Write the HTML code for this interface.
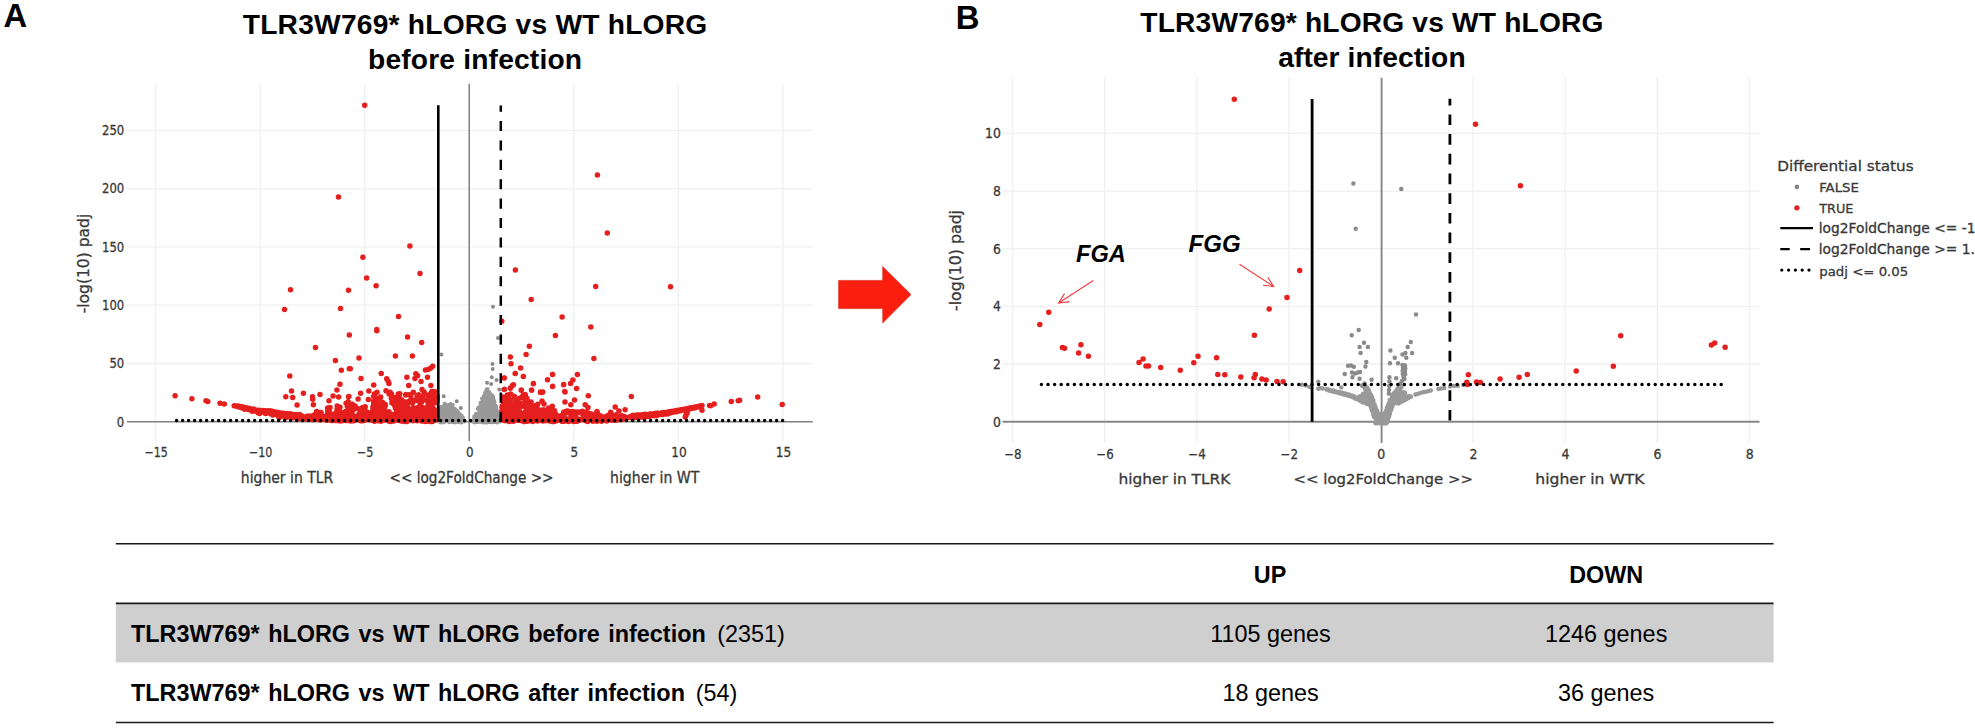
<!DOCTYPE html>
<html lang="en"><head><meta charset="utf-8"><title>TLR3W769* hLORG vs WT hLORG volcano plots</title>
<style>
html,body{margin:0;padding:0;background:#fff;}
body{width:1975px;height:728px;overflow:hidden;font-family:"Liberation Sans",Arial,sans-serif;}
svg{display:block;}
</style></head><body>
<svg width="1975" height="728" viewBox="0 0 1975 728">
<rect width="1975" height="728" fill="#fff"/>
<path d="M155.7 83.7V441.0M260.2 83.7V441.0M364.7 83.7V441.0M573.8 83.7V441.0M678.4 83.7V441.0M783.0 83.7V441.0M127.0 363.5H812.8M127.0 305.2H812.8M127.0 246.9H812.8M127.0 188.6H812.8M127.0 130.3H812.8" stroke="#f0f0f0" stroke-width="1.3" fill="none"/>
<path d="M469.2 83.7V441.0M127.0 421.8H812.8" stroke="#808080" stroke-width="1.5" fill="none"/>
<path d="M448.1 414.7h0M450.9 418.1h0M441.4 420.9h0M448.4 405.0h0M443.0 417.4h0M445.8 413.0h0M454.5 414.0h0M454.3 410.2h0M444.2 419.0h0M445.8 410.6h0M444.6 403.7h0M453.0 414.3h0M452.1 416.2h0M459.8 414.1h0M440.9 411.4h0M441.2 419.1h0M442.8 407.7h0M453.4 408.2h0M451.7 421.4h0M451.7 417.5h0M444.2 418.1h0M460.2 414.8h0M449.4 421.1h0M449.6 418.5h0M447.4 412.0h0M445.7 418.8h0M444.9 413.4h0M441.4 407.0h0M451.9 419.5h0M460.1 421.7h0M442.8 422.3h0M445.4 408.6h0M452.5 410.9h0M455.1 412.7h0M452.4 420.4h0M454.9 408.9h0M444.2 405.7h0M459.5 415.5h0M445.6 418.0h0M454.6 422.4h0M459.2 422.2h0M460.0 421.4h0M444.1 413.5h0M463.8 420.6h0M444.8 415.9h0M456.8 418.8h0M448.3 405.3h0M442.1 412.8h0M446.3 419.0h0M456.9 410.6h0M449.2 411.9h0M445.9 409.6h0M443.4 411.5h0M443.4 419.2h0M445.7 410.1h0M453.2 412.4h0M459.3 420.5h0M440.2 408.0h0M457.5 417.6h0M445.9 421.1h0M450.1 413.2h0M448.0 418.7h0M451.6 405.0h0M448.6 419.5h0M451.2 416.7h0M446.0 409.4h0M453.1 409.7h0M441.5 420.8h0M444.9 403.7h0M448.7 409.4h0M461.4 422.5h0M447.8 417.9h0M460.8 417.1h0M457.7 415.0h0M451.8 412.3h0M458.0 420.1h0M441.3 417.5h0M451.1 412.5h0M458.7 418.5h0M450.1 407.1h0M446.8 419.6h0M449.2 421.1h0M450.5 421.1h0M458.2 411.9h0M450.4 416.2h0M448.5 407.9h0M461.5 415.9h0M459.4 422.3h0M443.7 417.8h0M463.2 421.3h0M453.0 413.6h0M445.9 415.2h0M461.3 419.8h0M457.2 419.9h0M461.4 421.3h0M455.7 411.2h0M452.7 411.1h0M455.1 416.8h0M442.6 412.4h0M459.7 417.4h0M445.8 419.6h0M445.0 413.7h0M440.7 413.6h0M443.2 412.5h0M452.1 410.5h0M462.9 417.5h0M444.0 417.6h0M461.1 417.5h0M443.9 408.9h0M461.8 422.2h0M453.7 420.8h0M445.9 419.5h0M451.8 413.4h0M447.8 411.2h0M447.3 407.3h0M452.5 407.2h0M464.5 420.5h0M462.6 420.9h0M444.9 410.0h0M444.3 415.6h0M443.4 419.5h0M440.1 422.2h0M443.9 411.6h0M458.6 417.3h0M442.7 418.3h0M442.8 418.8h0M459.8 421.1h0M452.4 411.5h0M448.8 410.2h0M442.5 419.3h0M453.2 420.1h0M448.2 420.0h0M458.1 415.7h0M451.7 411.6h0M453.5 411.0h0M454.6 408.8h0M450.6 406.0h0M452.1 421.1h0M440.2 421.8h0M458.1 417.3h0M452.8 405.0h0M441.1 411.0h0M457.0 418.8h0M449.4 407.2h0M445.8 410.9h0M448.1 418.5h0M460.1 415.2h0M440.7 416.0h0M447.6 417.8h0M444.0 407.0h0M443.4 411.5h0M464.3 420.7h0M442.1 422.4h0M461.6 415.6h0M456.1 419.2h0M456.6 420.1h0M453.5 411.7h0M449.0 409.5h0M448.3 415.5h0M452.5 409.3h0M449.8 411.5h0M450.6 404.1h0M452.7 420.9h0M457.0 410.9h0M450.4 411.0h0M441.3 407.6h0M440.7 406.9h0M449.0 422.3h0M458.0 413.9h0M449.3 416.4h0M498.8 417.9h0M491.7 397.2h0M481.9 405.3h0M484.3 411.6h0M493.9 413.9h0M482.2 405.5h0M488.2 394.1h0M486.0 397.9h0M489.5 409.4h0M491.7 415.1h0M480.5 403.9h0M485.1 393.8h0M488.2 406.7h0M480.6 404.3h0M494.3 408.3h0M478.3 413.8h0M481.4 421.5h0M486.3 409.1h0M481.6 420.2h0M485.4 395.0h0M486.9 418.1h0M485.5 395.3h0M486.5 407.8h0M491.2 403.9h0M485.6 392.5h0M480.8 420.9h0M480.2 408.9h0M480.1 412.3h0M494.1 418.3h0M490.6 417.9h0M486.0 419.9h0M478.0 420.3h0M479.4 419.5h0M485.6 395.4h0M491.6 396.0h0M491.9 417.8h0M486.3 398.2h0M490.7 420.5h0M482.1 414.2h0M496.4 408.4h0M492.9 414.3h0M488.6 398.9h0M486.2 396.9h0M490.1 419.7h0M486.9 394.1h0M480.7 420.3h0M476.8 421.3h0M491.4 412.9h0M496.2 407.2h0M496.7 416.5h0M484.3 416.5h0M494.4 404.2h0M479.4 411.0h0M487.1 394.7h0M486.0 418.1h0M496.4 415.4h0M476.3 415.9h0M492.7 398.3h0M490.7 405.0h0M491.4 408.1h0M480.1 418.0h0M487.7 398.2h0M484.8 401.3h0M482.4 418.5h0M480.6 420.6h0M482.8 411.3h0M490.5 413.5h0M495.7 406.2h0M495.4 415.6h0M486.6 414.7h0M491.2 422.2h0M493.9 417.7h0M488.7 409.4h0M488.7 405.0h0M483.2 399.5h0M482.6 404.9h0M494.4 401.8h0M495.4 410.1h0M486.3 421.8h0M488.5 405.8h0M477.7 408.8h0M491.3 416.1h0M484.7 395.5h0M498.6 421.3h0M482.9 406.0h0M486.4 397.1h0M480.0 418.4h0M490.3 399.1h0M491.2 416.9h0M495.9 405.8h0M473.1 420.5h0M489.5 404.9h0M491.9 406.1h0M490.4 420.5h0M490.1 393.6h0M485.0 406.8h0M486.7 398.7h0M474.1 418.5h0M486.4 403.9h0M475.4 418.4h0M487.5 405.2h0M482.8 402.1h0M487.9 413.3h0M486.9 420.7h0M485.7 406.8h0M486.5 389.4h0M486.1 400.4h0M490.2 413.1h0M494.5 419.7h0M482.7 414.6h0M484.2 408.9h0M489.3 402.4h0M498.5 421.8h0M474.5 421.7h0M492.9 401.4h0M480.6 416.4h0M495.0 411.3h0M491.2 406.7h0M496.2 411.7h0M491.4 416.2h0M493.1 414.0h0M487.8 391.2h0M484.9 412.0h0M490.1 404.6h0M486.7 402.0h0M493.7 418.5h0M488.1 405.0h0M477.5 416.6h0M488.8 405.2h0M491.1 416.3h0M487.6 391.1h0M494.0 400.7h0M492.1 419.5h0M485.0 408.6h0M478.3 413.7h0M483.9 418.9h0M482.0 398.4h0M487.2 390.1h0M490.4 420.1h0M497.3 420.6h0M492.5 406.0h0M474.2 417.0h0M499.2 418.6h0M497.6 414.2h0M486.8 401.8h0M490.9 418.8h0M490.5 416.2h0M493.7 412.9h0M495.2 416.1h0M493.4 398.3h0M494.5 402.5h0M485.9 418.0h0M491.6 406.2h0M487.4 417.9h0M482.9 413.5h0M493.8 412.9h0M484.8 394.8h0M495.7 409.0h0M482.4 413.1h0M485.9 415.1h0M492.5 422.2h0M490.3 411.5h0M484.8 398.8h0M484.1 412.6h0M476.8 420.0h0M479.8 421.9h0M492.5 419.3h0M480.5 416.5h0M492.6 418.3h0M484.8 415.3h0M486.0 409.2h0M484.4 418.1h0M494.4 407.1h0M484.6 397.9h0M491.4 409.9h0M474.2 416.4h0M483.0 405.1h0M488.3 401.5h0M486.3 407.4h0M477.0 421.8h0M485.2 416.4h0M488.8 408.8h0M478.9 415.8h0M491.0 400.8h0M484.2 409.6h0M484.8 404.7h0M487.4 399.0h0M479.8 411.6h0M480.3 410.6h0M480.6 412.7h0M482.6 419.3h0M488.0 409.9h0M487.3 406.1h0M479.2 409.0h0M491.5 397.4h0M481.3 414.8h0M491.8 420.1h0M490.3 397.0h0M477.6 418.0h0M493.1 396.4h0M494.5 417.9h0M488.7 421.4h0M481.9 421.2h0M484.8 415.0h0M483.1 398.6h0M491.4 405.8h0M483.9 419.4h0M481.9 415.8h0M487.6 412.5h0M486.7 407.2h0M492.9 404.6h0M497.6 411.9h0M487.0 390.6h0M480.0 418.0h0M479.0 412.5h0M486.1 403.7h0M472.9 421.4h0M480.2 421.8h0M480.8 418.0h0M483.3 398.3h0M475.6 414.5h0M487.3 413.2h0M488.2 394.7h0M477.2 417.0h0M478.3 416.5h0M488.5 416.4h0M492.2 400.4h0M490.0 414.2h0M489.5 410.8h0M493.5 420.5h0M488.6 401.2h0M495.9 407.1h0M489.3 422.1h0M484.3 416.0h0M481.7 406.3h0M485.6 398.4h0M487.0 396.1h0M479.8 417.1h0M488.3 400.4h0M479.2 416.7h0M493.7 399.9h0M497.9 415.0h0M484.9 393.5h0M484.8 409.9h0M490.5 415.2h0M498.5 415.1h0M480.7 421.0h0M492.0 399.9h0M477.2 420.1h0M492.0 399.5h0M474.3 422.5h0M488.8 410.4h0M483.7 396.3h0M483.0 419.8h0M489.3 399.2h0M478.8 414.4h0M492.2 415.6h0M486.1 393.0h0M495.0 409.3h0M485.7 422.4h0M476.0 413.7h0M492.4 414.3h0M497.6 421.7h0M480.6 417.6h0M488.6 409.6h0M487.2 396.4h0M490.6 394.1h0M490.0 404.5h0M499.4 420.7h0M490.3 420.0h0M478.5 407.6h0M481.2 408.1h0M487.6 389.0h0M493.4 409.2h0M491.2 420.0h0M492.6 422.3h0M478.7 418.8h0M491.8 408.9h0M479.2 420.7h0M499.3 418.5h0M492.3 395.5h0M487.1 420.6h0M496.0 422.3h0M477.0 420.9h0M486.0 406.5h0M490.6 419.6h0M489.3 392.2h0M487.3 402.1h0M490.1 400.6h0M490.5 397.9h0M487.3 410.8h0M490.0 416.9h0M482.2 405.5h0M486.2 409.1h0M495.8 409.3h0M487.2 417.6h0M497.2 412.0h0M490.8 414.6h0M479.7 408.4h0M492.2 400.2h0M489.7 406.6h0M483.3 399.3h0M474.0 420.8h0M486.2 390.2h0M487.4 408.0h0M488.9 398.5h0M482.4 400.4h0M481.5 417.3h0M482.8 411.2h0M486.5 398.9h0M492.7 405.3h0M496.2 408.3h0M484.4 405.2h0M477.1 414.4h0M494.2 407.3h0M487.0 401.4h0M484.0 408.3h0M494.8 412.2h0M484.6 418.4h0M494.4 406.5h0M480.6 402.7h0M479.7 418.8h0M496.4 412.7h0M493.8 407.7h0M480.1 416.1h0M480.7 407.4h0M497.4 411.2h0M487.4 399.2h0M484.9 393.1h0M494.8 407.7h0M471.8 421.2h0M487.3 422.6h0M445.3 421.1h0M486.4 421.9h0M486.9 420.8h0M464.5 421.5h0M441.4 421.7h0M449.9 421.5h0M486.0 420.7h0M496.2 422.1h0M461.8 420.7h0M481.2 421.4h0M499.8 421.5h0M476.8 421.2h0M448.9 421.4h0M453.2 421.6h0M455.0 422.0h0M491.4 421.9h0M457.1 420.6h0M485.1 421.3h0M498.6 420.8h0M476.9 422.3h0M458.6 421.3h0M455.6 420.5h0M497.7 421.3h0M489.6 420.5h0M494.1 421.5h0M489.9 421.1h0M454.0 421.5h0M464.6 421.2h0M450.6 420.6h0M441.2 420.8h0M452.3 422.3h0M479.9 421.7h0M444.4 421.2h0M497.1 422.4h0M493.9 421.3h0M479.0 421.0h0M478.5 421.6h0M475.2 420.6h0M453.9 421.1h0M471.1 421.2h0M462.5 421.5h0M473.8 421.3h0M460.8 421.7h0M477.5 422.1h0M477.8 420.8h0M461.3 421.8h0M482.8 422.4h0M483.9 421.8h0M476.6 421.1h0M474.5 421.3h0M460.0 421.0h0M497.4 422.5h0M458.4 421.6h0M444.1 422.2h0M456.1 422.3h0M454.0 421.6h0M481.4 421.8h0M494.4 422.0h0" fill="none" stroke="#999999" stroke-width="4.00" stroke-linecap="round"/>
<path d="M441.4 354.5h0M443.7 396.2h0M456.8 401.2h0M460.9 408.1h0M492.5 364.1h0M492.7 369.0h0M491.8 377.2h0M487.0 382.7h0M491.1 384.1h0M496.6 380.0h0M498.0 338.0h0M499.3 389.6h0M493.0 306.8h0" fill="none" stroke="#8a8a8a" stroke-width="4.00" stroke-linecap="round"/>
<path d="M258.1 411.7h0M278.4 415.2h0M271.2 412.4h0M241.6 407.2h0M240.3 407.0h0M242.3 407.9h0M264.3 410.9h0M245.7 408.6h0M276.9 412.4h0M273.8 413.1h0M298.5 418.4h0M291.2 416.5h0M246.9 409.0h0M257.1 410.2h0M249.2 408.9h0M277.6 414.2h0M272.0 413.4h0M241.7 407.6h0M280.2 414.4h0M257.5 410.7h0M266.1 412.2h0M287.3 414.6h0M253.1 409.8h0M270.6 411.1h0M283.2 415.3h0M298.8 418.1h0M263.9 411.0h0M247.4 408.6h0M240.4 406.8h0M285.4 414.8h0M292.3 416.6h0M281.1 414.1h0M274.0 412.9h0M290.1 414.1h0M267.4 411.4h0M241.8 407.1h0M278.1 412.5h0M289.0 416.2h0M261.9 411.1h0M239.4 406.8h0M248.4 409.4h0M241.7 407.0h0M246.0 408.6h0M262.2 410.7h0M243.0 407.6h0M272.1 411.4h0M288.8 414.3h0M255.3 410.5h0M260.2 410.6h0M297.4 417.9h0M248.9 409.4h0M252.5 409.8h0M274.5 413.6h0M238.3 406.5h0M260.9 411.3h0M297.1 415.8h0M270.0 411.7h0M279.9 415.5h0M293.8 415.1h0M292.2 414.9h0M262.3 411.7h0M244.4 407.7h0M241.9 407.8h0M250.9 410.0h0M259.1 412.1h0M238.0 406.7h0M244.3 408.1h0M239.6 406.4h0M276.1 414.3h0M253.6 410.3h0M260.6 412.1h0M290.6 414.0h0M266.9 411.8h0M243.3 408.2h0M259.2 411.7h0M289.4 416.7h0M239.4 406.2h0M270.8 412.9h0M271.7 413.4h0M270.7 410.9h0M291.5 415.1h0M254.2 410.4h0M248.4 408.4h0M271.0 411.4h0M258.4 411.6h0M288.3 413.8h0M290.9 414.7h0M288.7 414.7h0M252.1 409.7h0M260.0 412.3h0M239.7 407.0h0M254.1 409.8h0M297.3 416.8h0M296.1 414.6h0M297.2 417.0h0M251.7 410.0h0M250.2 409.7h0M276.7 412.5h0M290.1 415.7h0M278.5 413.1h0M243.3 407.4h0M294.4 415.2h0M284.5 414.9h0M249.1 408.6h0M258.6 410.5h0M298.2 417.0h0M262.9 410.6h0M282.9 415.6h0M245.9 408.7h0M294.1 415.1h0M247.1 408.1h0M298.8 416.1h0M259.7 411.2h0M246.1 409.0h0M298.2 416.1h0M270.6 411.0h0M264.9 410.8h0M289.2 416.5h0M253.6 410.4h0M252.9 409.7h0M254.1 410.3h0M246.1 407.8h0M259.9 411.4h0M274.2 411.8h0M264.1 410.7h0M269.1 411.9h0M270.5 413.2h0M265.3 412.4h0M238.2 406.1h0M248.7 409.0h0M283.0 414.5h0M258.2 411.0h0M272.4 411.7h0M244.6 407.9h0M253.4 410.4h0M285.9 415.0h0M272.8 411.9h0M294.6 416.4h0M276.0 413.3h0M269.8 411.5h0M266.0 411.7h0M267.6 410.8h0M281.4 413.3h0M296.4 417.3h0M272.7 411.4h0M290.1 416.9h0M245.5 408.3h0M242.5 407.8h0M242.5 407.3h0M286.6 413.9h0M247.6 408.3h0M278.9 415.1h0M292.7 414.4h0M251.6 408.9h0M262.7 411.5h0M299.4 415.5h0M248.0 408.9h0M270.0 412.4h0M250.1 409.5h0M282.8 416.1h0M272.4 412.6h0M239.1 406.8h0M276.7 413.5h0M242.0 406.8h0M286.9 413.7h0M244.5 408.2h0M240.5 406.7h0M254.8 410.9h0M264.2 410.7h0M288.8 416.3h0M247.3 408.0h0M273.4 412.2h0M243.5 408.3h0M280.7 414.5h0M242.5 406.9h0M277.3 412.9h0M243.2 407.2h0M242.1 406.9h0M266.1 412.1h0M272.3 411.3h0M254.6 410.9h0M270.7 412.7h0M244.8 408.4h0M241.1 407.5h0M257.3 411.2h0M285.1 415.6h0M269.0 412.7h0M259.5 412.3h0M253.5 410.8h0M283.5 414.5h0M249.7 409.2h0M295.9 417.8h0M288.8 415.7h0M268.7 411.1h0M262.4 411.5h0M280.6 412.9h0M259.2 410.6h0M281.8 414.1h0M263.1 411.9h0M241.4 407.6h0M242.4 407.1h0M253.8 410.7h0M243.2 407.2h0M292.0 415.3h0M255.5 410.9h0M256.2 410.7h0M247.8 408.8h0M254.3 409.4h0M298.3 416.5h0M253.2 409.1h0M257.2 411.1h0M238.1 406.5h0M267.4 411.8h0M250.5 409.3h0M238.3 406.7h0M243.6 407.8h0M240.6 407.5h0M256.9 411.2h0M274.3 412.8h0M284.5 414.4h0M282.4 413.4h0M262.2 411.8h0M299.1 418.0h0M282.9 414.2h0M240.7 406.7h0M293.3 415.6h0M283.5 413.8h0M246.6 408.4h0M269.3 411.1h0M287.9 414.3h0M274.2 411.9h0M280.3 413.7h0M252.3 410.5h0M246.3 408.5h0M244.5 407.5h0M272.6 412.2h0M276.8 413.1h0M268.3 413.1h0M287.5 414.5h0M269.2 411.9h0M278.9 415.3h0M283.7 415.5h0M242.6 407.8h0M283.2 415.6h0M283.9 413.3h0M268.6 412.2h0M267.7 411.4h0M285.6 414.6h0M277.9 415.0h0M247.1 408.9h0M284.1 415.4h0M273.2 413.9h0M241.8 407.6h0M279.7 413.6h0M279.9 414.8h0M270.0 412.1h0M266.9 412.7h0M293.4 417.1h0M298.6 415.1h0M239.1 406.7h0M326.8 420.2h0M410.4 418.7h0M392.7 419.0h0M413.5 415.2h0M413.3 419.7h0M394.2 403.4h0M375.4 407.0h0M412.6 420.0h0M420.1 412.2h0M424.6 410.1h0M395.2 414.7h0M329.4 419.7h0M310.5 419.2h0M361.4 419.2h0M437.2 399.6h0M372.4 415.2h0M348.6 409.4h0M362.4 418.1h0M346.6 420.4h0M345.4 417.1h0M389.5 414.5h0M384.2 407.7h0M369.7 416.0h0M431.5 418.6h0M431.7 403.9h0M349.7 413.1h0M337.3 413.5h0M316.0 414.9h0M362.6 420.8h0M430.4 400.8h0M319.9 413.0h0M429.9 406.1h0M422.3 414.8h0M314.1 415.1h0M431.0 420.7h0M317.5 417.0h0M357.8 419.5h0M315.3 419.0h0M290.6 416.8h0M399.4 404.7h0M327.8 415.3h0M425.0 420.1h0M431.1 405.9h0M426.8 416.5h0M398.0 415.8h0M378.1 404.2h0M335.4 418.6h0M380.1 415.1h0M413.6 410.5h0M420.1 404.4h0M321.1 412.7h0M410.3 419.4h0M427.1 418.2h0M354.1 415.9h0M429.5 411.3h0M380.0 405.4h0M410.4 418.6h0M369.7 419.3h0M360.4 420.8h0M426.5 419.1h0M405.2 406.4h0M414.4 400.7h0M413.2 411.3h0M349.7 406.9h0M321.7 416.0h0M355.5 408.1h0M397.3 409.1h0M430.2 417.9h0M437.1 416.9h0M422.0 416.9h0M421.8 416.1h0M407.0 421.4h0M373.6 415.6h0M383.0 411.0h0M351.6 418.9h0M428.1 399.8h0M300.5 418.3h0M404.7 402.8h0M339.1 407.4h0M428.2 402.4h0M423.1 409.6h0M404.2 410.1h0M428.7 401.1h0M378.2 412.4h0M331.6 418.8h0M414.1 407.9h0M398.5 401.8h0M336.9 413.8h0M370.0 416.2h0M365.4 412.4h0M432.4 418.5h0M398.8 415.1h0M391.1 421.1h0M416.1 414.6h0M380.5 419.3h0M290.4 413.7h0M382.2 414.9h0M410.0 418.8h0M429.3 401.3h0M303.0 417.7h0M409.2 417.1h0M341.8 420.7h0M362.4 411.8h0M403.3 414.0h0M367.6 418.1h0M286.2 415.5h0M361.0 417.3h0M405.5 416.1h0M381.3 406.3h0M420.8 401.3h0M400.2 404.9h0M335.6 417.6h0M352.6 410.8h0M305.1 418.7h0M314.7 414.7h0M344.3 416.3h0M397.2 401.0h0M406.0 408.8h0M377.6 415.0h0M423.7 410.7h0M399.6 401.9h0M395.6 415.8h0M383.3 404.0h0M381.3 406.7h0M404.7 412.1h0M380.3 413.3h0M427.1 412.8h0M404.0 408.5h0M433.8 409.9h0M364.8 410.7h0M383.0 409.4h0M389.8 415.5h0M391.9 402.8h0M320.0 420.1h0M366.0 416.5h0M403.8 412.2h0M432.2 412.4h0M412.5 417.8h0M395.5 402.3h0M382.7 405.3h0M411.6 416.1h0M307.7 415.9h0M338.6 419.1h0M406.1 418.8h0M378.3 413.1h0M421.6 417.5h0M398.5 418.6h0M356.9 408.6h0M361.6 418.1h0M371.3 417.5h0M342.9 420.6h0M427.3 421.1h0M363.5 419.0h0M358.0 415.7h0M411.6 408.9h0M385.3 404.5h0M385.8 419.3h0M378.8 412.0h0M401.7 400.6h0M385.5 417.1h0M405.3 402.6h0M351.3 419.9h0M344.7 420.0h0M389.7 420.7h0M403.4 417.9h0M396.7 412.1h0M393.6 419.9h0M396.7 418.0h0M373.2 413.3h0M383.8 406.7h0M344.5 420.2h0M405.0 403.5h0M411.5 411.5h0M434.3 411.4h0M332.8 418.7h0M375.0 418.7h0M292.4 416.8h0M415.1 413.5h0M399.8 402.0h0M378.1 407.9h0M317.3 415.2h0M408.4 402.0h0M373.9 418.7h0M365.2 411.1h0M302.1 416.2h0M372.0 415.9h0M350.6 415.6h0M418.1 420.2h0M424.0 411.3h0M346.3 420.6h0M431.1 406.1h0M354.0 420.7h0M324.8 419.1h0M405.3 412.6h0M435.5 399.7h0M400.5 413.3h0M331.3 415.4h0M427.7 418.8h0M426.9 412.1h0M354.6 417.1h0M319.6 414.3h0M369.9 418.3h0M423.0 421.1h0M436.3 419.7h0M434.5 416.7h0M412.3 400.8h0M378.9 416.8h0M397.2 414.5h0M413.7 408.6h0M418.3 400.8h0M412.2 400.2h0M364.9 409.2h0M304.3 416.9h0M417.3 414.2h0M418.4 408.7h0M363.9 409.8h0M376.9 409.4h0M392.6 418.3h0M349.8 409.5h0M346.0 415.9h0M352.1 416.6h0M424.5 417.7h0M427.7 406.8h0M382.0 409.6h0M403.8 412.2h0M408.8 418.6h0M364.9 420.3h0M329.6 412.6h0M363.9 407.9h0M379.0 403.9h0M435.8 415.8h0M310.1 418.3h0M320.2 414.9h0M388.4 417.8h0M410.6 414.9h0M398.8 408.2h0M405.1 419.4h0M402.2 408.7h0M432.0 406.7h0M404.9 411.5h0M395.7 406.0h0M405.4 408.8h0M413.9 420.5h0M317.0 419.3h0M361.4 415.8h0M429.8 409.4h0M371.2 418.5h0M432.3 407.3h0M380.8 404.8h0M334.3 417.1h0M363.8 418.9h0M390.7 421.4h0M420.7 400.0h0M382.6 406.5h0M405.5 413.7h0M410.9 416.6h0M295.4 415.7h0M421.1 420.6h0M333.8 416.9h0M332.1 420.6h0M340.4 420.9h0M295.9 417.1h0M393.1 402.9h0M431.4 420.3h0M362.6 407.6h0M418.3 409.1h0M368.3 415.8h0M347.2 415.8h0M327.9 413.4h0M414.4 412.1h0M313.6 419.4h0M413.3 414.3h0M338.9 417.4h0M323.1 416.3h0M317.9 415.2h0M399.4 403.2h0M427.1 414.9h0M401.6 414.0h0M408.2 410.0h0M433.1 409.9h0M371.4 416.9h0M425.5 412.1h0M427.9 402.4h0M403.5 403.6h0M314.2 417.7h0M426.6 416.1h0M372.0 417.0h0M393.0 420.2h0M405.4 403.3h0M337.4 413.1h0M423.9 420.9h0M431.9 416.8h0M331.1 420.4h0M374.1 409.6h0M372.9 409.1h0M375.3 406.4h0M297.1 418.1h0M369.5 415.4h0M403.6 415.9h0M420.8 418.3h0M371.4 418.3h0M401.8 417.1h0M377.6 410.1h0M407.8 419.7h0M407.5 410.2h0M390.6 420.3h0M362.1 416.5h0M291.4 416.9h0M336.0 418.9h0M372.3 420.5h0M436.5 410.4h0M402.9 415.8h0M382.0 405.3h0M328.7 418.3h0M428.4 403.8h0M401.8 409.0h0M382.4 410.1h0M347.6 404.6h0M418.1 407.4h0M396.2 420.0h0M337.6 410.9h0M435.8 415.8h0M346.6 411.4h0M397.3 411.4h0M298.0 418.4h0M367.5 412.4h0M399.7 406.4h0M348.8 412.0h0M426.4 421.3h0M409.5 409.8h0M375.3 412.8h0M377.3 415.0h0M403.7 415.8h0M403.4 421.3h0M312.9 419.6h0M310.6 415.9h0M382.5 416.5h0M355.8 419.1h0M383.9 418.1h0M425.4 412.1h0M401.2 403.6h0M436.8 410.6h0M309.8 418.3h0M326.5 417.1h0M421.2 413.5h0M376.7 410.8h0M419.9 418.6h0M340.7 418.1h0M433.8 419.3h0M337.5 414.3h0M436.3 418.5h0M351.0 413.5h0M432.8 414.7h0M368.5 413.7h0M435.0 414.4h0M413.9 419.3h0M384.0 404.1h0M433.4 415.1h0M415.5 411.2h0M436.9 412.1h0M398.8 414.2h0M345.7 411.7h0M388.7 412.1h0M395.5 408.2h0M319.6 419.7h0M410.7 412.4h0M411.5 418.2h0M292.6 417.3h0M407.8 407.6h0M394.9 404.3h0M350.2 411.8h0M347.9 416.8h0M339.5 410.8h0M426.3 420.9h0M336.0 415.4h0M375.9 407.8h0M413.4 408.1h0M421.1 408.6h0M363.6 413.2h0M389.1 415.7h0M402.8 401.7h0M359.2 413.7h0M436.0 402.7h0M333.5 418.0h0M407.7 402.6h0M374.6 416.5h0M419.2 407.1h0M383.0 418.1h0M425.9 416.5h0M361.6 413.3h0M330.7 417.5h0M301.3 416.1h0M430.2 412.9h0M371.0 419.3h0M389.0 417.2h0M428.5 403.4h0M338.8 408.7h0M427.1 408.4h0M417.1 409.8h0M421.5 401.8h0M426.3 411.3h0M432.7 420.2h0M373.7 405.6h0M428.8 417.6h0M418.5 399.8h0M421.1 420.1h0M360.1 410.6h0M390.5 415.2h0M421.1 410.8h0M321.5 416.1h0M393.8 402.3h0M379.8 416.9h0M337.9 407.8h0M425.7 420.1h0M434.1 416.3h0M358.8 415.9h0M423.8 412.3h0M316.2 417.7h0M405.3 414.4h0M339.0 420.7h0M411.7 419.2h0M399.0 416.5h0M375.6 417.1h0M405.0 403.7h0M431.8 420.2h0M360.7 413.5h0M393.8 416.1h0M406.4 420.1h0M385.0 404.7h0M376.2 416.3h0M377.7 404.6h0M318.4 417.6h0M389.6 417.1h0M341.0 418.8h0M378.6 406.1h0M436.0 417.3h0M301.3 418.1h0M364.0 419.8h0M380.7 420.5h0M340.9 412.2h0M343.0 413.3h0M434.1 417.4h0M399.9 414.7h0M399.7 404.3h0M306.8 418.8h0M293.1 415.1h0M383.3 415.5h0M434.4 416.6h0M388.6 420.7h0M393.7 403.1h0M310.6 417.1h0M398.0 404.0h0M432.2 401.2h0M423.9 417.4h0M382.6 404.1h0M370.8 415.3h0M327.8 419.5h0M366.3 412.1h0M428.6 402.2h0M296.6 415.3h0M388.9 416.7h0M432.7 413.7h0M403.5 420.1h0M398.6 406.0h0M418.2 409.3h0M337.4 406.6h0M362.2 413.1h0M373.7 410.7h0M327.5 416.2h0M413.2 413.2h0M400.4 419.0h0M422.4 417.0h0M327.7 411.4h0M411.0 401.5h0M320.0 413.3h0M392.1 417.5h0M353.6 416.7h0M406.4 417.5h0M404.0 408.9h0M350.3 412.1h0M395.9 406.2h0M417.6 416.6h0M431.8 421.2h0M397.7 407.2h0M433.6 420.3h0M425.6 414.4h0M417.0 412.1h0M381.9 403.8h0M422.4 407.6h0M403.9 421.4h0M424.3 408.2h0M324.2 419.3h0M393.7 421.1h0M343.5 417.3h0M335.1 418.7h0M382.5 407.3h0M345.5 417.1h0M300.2 416.5h0M427.2 413.2h0M427.1 419.5h0M400.9 420.9h0M393.7 416.7h0M405.4 419.5h0M410.6 411.9h0M346.2 415.1h0M289.7 416.8h0M300.3 417.8h0M378.0 415.7h0M384.4 414.8h0M406.8 417.4h0M414.9 418.5h0M393.2 403.7h0M427.4 417.4h0M321.0 419.6h0M335.9 415.8h0M421.0 409.6h0M381.1 409.8h0M432.5 409.6h0M384.6 420.0h0M347.8 413.7h0M432.8 401.4h0M390.8 415.3h0M432.3 411.1h0M385.5 413.8h0M390.3 415.7h0M348.0 407.4h0M396.5 419.9h0M411.7 417.9h0M407.8 403.1h0M295.8 417.8h0M395.6 416.2h0M302.9 416.4h0M329.3 415.6h0M344.3 412.4h0M418.0 418.0h0M322.4 418.1h0M426.2 414.7h0M364.1 408.0h0M398.3 402.0h0M361.7 412.7h0M398.3 405.4h0M374.5 406.3h0M389.0 420.3h0M429.9 421.4h0M380.2 417.3h0M347.7 413.1h0M411.6 411.6h0M394.0 402.2h0M420.5 402.0h0M348.0 412.9h0M418.0 409.6h0M414.8 412.7h0M385.8 416.5h0M422.3 400.9h0M388.8 415.0h0M380.7 413.2h0M407.3 408.2h0M388.8 412.6h0M313.3 416.1h0M422.5 414.8h0M340.6 415.6h0M374.3 410.8h0M340.0 407.2h0M432.0 417.4h0M383.4 414.0h0M432.6 415.6h0M331.6 417.0h0M377.2 418.4h0M365.2 406.7h0M406.1 404.7h0M360.6 419.8h0M391.1 414.4h0M320.8 416.5h0M393.4 416.3h0M321.1 413.0h0M374.4 412.2h0M395.9 403.4h0M383.1 411.7h0M320.3 417.2h0M394.7 416.3h0M333.0 414.5h0M427.3 407.8h0M365.1 414.3h0M334.3 414.2h0M402.9 407.4h0M426.7 411.8h0M424.0 407.9h0M399.9 407.2h0M432.2 403.4h0M412.4 400.4h0M402.0 404.7h0M421.3 408.1h0M431.1 403.4h0M436.3 417.9h0M334.7 415.1h0M337.8 406.7h0M410.6 410.7h0M424.0 412.3h0M420.6 402.3h0M425.5 421.4h0M396.4 416.8h0M413.4 409.8h0M414.0 418.5h0M418.0 407.7h0M337.5 416.0h0M296.7 415.0h0M381.9 408.0h0M375.1 409.3h0M359.4 418.5h0M341.1 413.8h0M375.6 414.4h0M351.1 409.4h0M319.7 416.5h0M351.8 414.2h0M369.0 413.1h0M424.1 415.4h0M417.7 419.7h0M422.3 420.4h0M363.5 410.3h0M307.8 416.6h0M337.6 415.2h0M312.6 419.1h0M316.6 414.5h0M399.7 414.2h0M327.3 419.7h0M299.1 416.4h0M382.9 404.6h0M402.3 401.1h0M362.5 408.3h0M429.3 401.1h0M339.8 419.6h0M370.1 414.8h0M430.0 405.4h0M415.2 411.1h0M388.7 420.2h0M361.2 418.9h0M339.1 419.8h0M383.0 404.5h0M344.7 416.1h0M327.8 417.0h0M315.3 416.6h0M424.1 410.1h0M425.9 419.7h0M351.8 415.2h0M418.4 411.3h0M433.1 421.1h0M393.1 400.6h0M291.1 416.2h0M373.3 418.6h0M377.2 406.1h0M429.1 419.4h0M407.7 409.2h0M387.5 414.6h0M348.0 420.5h0M343.1 419.1h0M406.2 417.0h0M400.9 411.6h0M401.5 419.2h0M375.0 419.9h0M328.0 418.3h0M385.3 405.5h0M350.7 416.7h0M401.1 418.1h0M389.1 421.3h0M382.6 402.4h0M395.0 404.8h0M427.5 399.5h0M409.6 400.8h0M427.1 416.1h0M423.5 420.9h0M403.0 409.6h0M424.6 413.5h0M399.0 407.9h0M410.8 419.6h0M341.8 415.5h0M375.4 418.7h0M329.1 410.4h0M429.8 405.3h0M430.0 409.9h0M377.8 420.8h0M363.0 417.4h0M387.5 419.7h0M436.5 414.3h0M433.0 410.6h0M316.8 417.3h0M432.6 413.9h0M430.7 421.4h0M396.1 405.2h0M422.5 399.6h0M407.5 408.9h0M373.1 406.6h0M350.1 415.4h0M362.3 411.5h0M336.3 412.6h0M350.3 409.1h0M428.1 400.0h0M332.3 419.3h0M292.9 417.7h0M384.3 412.0h0M363.5 413.1h0M387.6 416.7h0M330.3 416.9h0M357.8 408.4h0M395.7 413.8h0M299.9 418.1h0M382.6 418.3h0M394.7 405.7h0M334.3 416.1h0M417.2 420.8h0M383.7 410.5h0M337.2 409.1h0M375.2 403.1h0M327.8 414.0h0M404.5 402.4h0M330.1 414.1h0M410.2 414.7h0M332.5 415.3h0M397.3 402.0h0M405.0 413.3h0M431.9 413.2h0M432.6 401.9h0M337.1 416.4h0M397.8 405.5h0M421.8 418.2h0M433.8 400.0h0M328.6 417.8h0M336.3 418.8h0M350.8 415.8h0M342.8 419.1h0M401.5 413.4h0M316.4 419.3h0M383.8 409.1h0M349.2 419.1h0M415.9 411.0h0M343.2 416.4h0M408.9 415.9h0M404.0 410.0h0M363.0 414.0h0M416.6 418.5h0M340.3 411.7h0M347.0 413.0h0M412.2 414.8h0M383.8 411.7h0M379.5 403.9h0M388.9 411.8h0M404.3 401.7h0M400.2 407.5h0M433.1 412.7h0M427.7 414.6h0M421.1 417.3h0M390.4 418.1h0M425.6 418.3h0M436.2 416.4h0M328.6 416.8h0M426.3 411.7h0M416.8 413.9h0M399.0 402.3h0M400.3 418.4h0M397.1 406.4h0M365.6 419.5h0M357.6 416.1h0M382.4 405.6h0M373.8 407.2h0M412.0 411.4h0M381.0 415.9h0M330.3 416.1h0M308.6 418.2h0M373.6 408.2h0M412.9 419.8h0M316.2 415.6h0M404.5 414.6h0M320.6 412.6h0M400.8 419.8h0M429.8 407.3h0M352.3 417.3h0M421.2 412.9h0M323.2 418.1h0M434.4 412.1h0M381.9 408.0h0M396.5 412.5h0M337.1 413.2h0M396.9 420.0h0M348.9 409.4h0M352.0 420.8h0M334.8 417.3h0M418.6 407.3h0M401.7 399.9h0M364.8 420.0h0M422.1 410.4h0M349.1 407.4h0M424.9 411.0h0M393.8 419.7h0M398.6 420.2h0M347.9 418.1h0M375.1 403.1h0M407.5 401.9h0M395.1 406.6h0M421.4 421.1h0M421.4 420.1h0M379.5 407.8h0M431.7 406.9h0M342.8 415.0h0M384.6 410.6h0M364.2 420.3h0M432.4 421.4h0M398.7 420.0h0M412.4 402.9h0M405.5 404.0h0M341.9 417.6h0M414.1 400.4h0M394.8 417.7h0M431.7 402.5h0M289.7 414.2h0M414.7 414.2h0M408.8 410.1h0M409.3 409.8h0M393.4 415.9h0M381.3 419.6h0M336.6 419.8h0M384.0 420.0h0M404.0 407.8h0M430.0 407.4h0M354.7 408.3h0M414.9 411.0h0M412.9 420.7h0M413.0 410.9h0M380.2 409.9h0M301.5 416.5h0M376.7 411.3h0M418.1 415.4h0M328.0 417.1h0M421.8 410.8h0M343.5 415.5h0M379.5 409.9h0M426.8 419.4h0M433.0 408.2h0M382.2 414.0h0M429.7 404.2h0M418.9 416.2h0M290.7 416.5h0M335.4 420.4h0M404.2 402.3h0M407.9 410.3h0M327.1 420.0h0M307.7 417.0h0M318.9 416.7h0M320.8 418.2h0M411.3 415.6h0M403.3 417.3h0M435.4 417.3h0M425.7 413.5h0M306.5 418.8h0M403.1 416.9h0M400.2 413.1h0M418.5 407.5h0M405.6 416.1h0M398.1 404.3h0M328.8 412.3h0M358.9 419.6h0M428.5 410.5h0M301.6 415.7h0M359.0 417.5h0M382.6 419.6h0M424.4 419.7h0M425.7 418.3h0M411.7 415.3h0M348.9 418.8h0M429.4 405.4h0M374.5 421.2h0M348.7 406.7h0M434.6 401.3h0M404.7 402.1h0M404.4 409.8h0M314.2 416.9h0M408.4 412.7h0M433.7 409.6h0M382.9 404.6h0M353.5 416.0h0M395.0 401.9h0M392.8 414.5h0M339.1 410.7h0M435.7 418.5h0M402.8 401.3h0M404.9 415.3h0M360.2 415.7h0M382.5 414.8h0M338.9 410.8h0M400.0 398.5h0M420.1 403.3h0M399.8 410.4h0M316.1 419.0h0M373.7 403.8h0M365.8 414.5h0M338.1 416.3h0M301.0 418.7h0M381.0 421.2h0M366.1 416.3h0M300.6 418.0h0M432.6 401.1h0M414.8 415.2h0M377.1 420.5h0M399.9 419.9h0M409.2 410.0h0M433.8 420.5h0M377.9 419.7h0M352.5 416.9h0M327.7 419.6h0M436.9 401.4h0M374.4 406.6h0M429.6 406.7h0M430.7 414.7h0M360.5 409.1h0M407.7 418.4h0M421.0 409.1h0M349.4 419.6h0M359.5 413.9h0M396.7 403.7h0M396.6 410.2h0M338.2 416.6h0M434.4 401.4h0M384.3 409.2h0M371.3 412.6h0M350.6 407.1h0M350.8 420.9h0M299.7 414.5h0M346.0 411.2h0M421.4 402.2h0M324.7 416.4h0M407.1 418.0h0M421.3 411.8h0M372.9 407.3h0M409.4 414.4h0M336.2 420.4h0M348.3 412.3h0M379.8 409.2h0M404.7 402.7h0M336.4 415.4h0M347.3 406.1h0M403.4 406.9h0M425.8 421.0h0M327.2 418.7h0M337.0 409.9h0M338.5 416.2h0M325.2 417.0h0M414.6 412.7h0M301.3 416.6h0M434.5 413.5h0M435.4 411.7h0M339.1 407.2h0M427.2 400.2h0M398.3 393.9h0M355.1 406.1h0M430.3 397.2h0M405.7 395.0h0M348.2 401.8h0M436.3 392.2h0M437.3 396.3h0M431.8 395.1h0M377.1 400.1h0M424.1 392.0h0M391.3 398.6h0M391.6 394.2h0M417.0 396.6h0M395.0 397.7h0M432.3 397.3h0M417.4 396.7h0M418.5 394.8h0M373.6 401.2h0M422.0 389.4h0M358.1 398.9h0M380.0 398.2h0M376.0 398.0h0M433.0 396.9h0M433.9 391.5h0M422.5 396.0h0M389.1 394.1h0M374.4 394.1h0M422.7 397.1h0M380.7 397.0h0M419.4 396.0h0M431.3 392.6h0M413.3 392.3h0M421.4 396.3h0M409.2 394.8h0M352.3 404.3h0M679.2 410.7h0M690.6 408.2h0M669.8 412.8h0M650.6 414.1h0M686.5 409.4h0M637.8 417.0h0M697.6 407.1h0M687.1 409.0h0M669.7 412.5h0M659.9 413.9h0M638.1 415.0h0M639.0 417.0h0M677.7 410.6h0M686.9 408.9h0M695.3 407.7h0M632.7 417.4h0M685.0 409.8h0M668.1 412.4h0M642.6 415.6h0M693.3 407.6h0M659.1 414.1h0M650.9 413.9h0M685.2 409.2h0M652.7 414.3h0M665.1 412.8h0M656.7 413.5h0M678.6 410.7h0M670.3 411.9h0M668.0 412.1h0M632.5 415.5h0M680.6 410.3h0M689.8 408.9h0M655.0 414.1h0M688.0 409.0h0M699.6 406.2h0M635.1 417.5h0M637.2 416.0h0M653.9 415.2h0M662.4 414.5h0M693.8 407.4h0M670.0 412.6h0M653.0 414.5h0M655.6 413.4h0M697.0 406.8h0M688.2 409.3h0M640.4 416.3h0M640.6 416.1h0M699.1 406.2h0M697.2 407.1h0M647.1 416.5h0M650.6 416.0h0M667.9 413.3h0M677.8 410.7h0M672.6 412.2h0M682.0 409.8h0M680.6 410.3h0M663.5 413.9h0M634.7 416.6h0M673.9 412.1h0M690.5 408.1h0M690.0 408.2h0M665.2 413.9h0M650.4 414.4h0M699.0 406.7h0M632.4 417.1h0M655.7 414.2h0M639.6 415.0h0M655.0 413.6h0M654.4 415.0h0M644.0 414.4h0M672.1 411.5h0M636.3 416.2h0M681.8 409.4h0M695.7 407.6h0M657.4 413.2h0M668.4 412.1h0M649.2 416.2h0M696.3 407.3h0M670.1 412.7h0M671.3 411.5h0M696.4 406.8h0M649.5 414.3h0M633.3 416.8h0M696.2 407.3h0M657.0 414.1h0M648.1 414.7h0M676.4 411.7h0M694.6 407.9h0M679.4 410.7h0M641.8 416.9h0M699.8 406.1h0M663.2 413.0h0M697.9 406.4h0M668.2 413.3h0M667.3 412.2h0M681.7 409.9h0M689.3 408.7h0M670.0 411.9h0M645.5 414.5h0M633.7 416.5h0M671.1 412.8h0M694.7 407.5h0M644.6 415.8h0M672.2 412.1h0M632.2 417.9h0M680.5 410.8h0M649.4 414.4h0M690.6 408.1h0M643.9 416.9h0M683.3 409.6h0M656.8 415.4h0M661.3 414.3h0M672.0 411.3h0M646.2 416.4h0M679.2 411.1h0M647.2 415.4h0M699.1 406.5h0M653.5 414.7h0M643.0 415.9h0M679.6 410.7h0M686.2 409.6h0M638.9 415.7h0M662.8 412.8h0M639.1 415.3h0M677.5 411.1h0M640.7 415.6h0M683.6 409.7h0M664.1 413.1h0M673.4 411.9h0M644.7 415.6h0M669.4 412.0h0M699.6 406.3h0M654.3 415.2h0M674.9 411.1h0M648.8 414.7h0M699.9 406.3h0M695.8 407.3h0M676.3 410.6h0M645.8 415.8h0M698.9 406.7h0M652.8 414.8h0M682.6 409.7h0M695.2 407.2h0M632.1 418.0h0M634.5 416.7h0M633.8 416.5h0M675.0 411.8h0M690.2 408.6h0M697.3 407.0h0M674.2 411.5h0M649.9 414.4h0M632.3 417.4h0M653.8 413.8h0M666.0 414.0h0M652.3 414.6h0M687.0 409.5h0M685.0 409.6h0M667.6 413.1h0M661.8 412.8h0M694.5 407.2h0M682.0 409.8h0M641.6 417.0h0M688.5 408.6h0M674.9 411.7h0M650.2 414.0h0M668.2 413.7h0M655.2 414.8h0M636.6 414.9h0M693.4 407.6h0M632.3 416.9h0M639.6 415.4h0M687.0 408.8h0M685.8 409.7h0M632.9 417.8h0M689.3 408.3h0M667.1 413.5h0M690.3 408.8h0M654.1 415.7h0M698.8 406.5h0M684.4 409.2h0M671.5 411.4h0M684.7 409.0h0M697.5 407.1h0M683.0 410.1h0M654.1 415.0h0M699.2 406.7h0M661.6 414.5h0M699.8 406.2h0M679.7 410.4h0M684.2 409.8h0M660.1 413.5h0M679.8 409.9h0M653.0 414.0h0M682.1 409.9h0M659.8 413.9h0M637.2 417.3h0M653.2 415.6h0M635.3 415.8h0M681.7 409.9h0M646.0 414.8h0M688.2 408.7h0M647.5 415.1h0M658.8 414.6h0M642.1 414.8h0M675.0 410.8h0M643.7 416.2h0M666.6 413.9h0M652.6 414.7h0M664.8 412.6h0M671.3 412.0h0M671.8 411.6h0M656.9 415.4h0M698.7 406.3h0M640.6 416.9h0M647.1 414.9h0M640.9 417.1h0M665.6 414.1h0M649.6 415.4h0M646.0 416.6h0M649.7 415.7h0M654.0 414.8h0M656.5 414.7h0M633.3 415.6h0M682.2 410.0h0M632.2 417.5h0M693.2 407.9h0M646.0 414.6h0M692.6 408.3h0M666.1 413.1h0M640.0 416.4h0M674.0 411.3h0M674.7 411.3h0M657.7 415.1h0M633.1 415.6h0M690.8 408.0h0M637.2 415.5h0M643.7 416.0h0M645.6 414.5h0M687.7 408.6h0M657.9 413.3h0M649.7 414.9h0M677.8 411.2h0M658.0 415.0h0M686.2 409.6h0M641.2 416.4h0M675.5 411.1h0M667.7 412.4h0M683.2 410.1h0M668.4 413.4h0M648.4 416.0h0M637.2 416.6h0M692.3 408.0h0M638.0 416.9h0M672.2 412.0h0M633.8 417.7h0M670.5 412.2h0M637.5 415.4h0M648.3 415.0h0M668.0 413.2h0M696.4 407.2h0M560.2 416.4h0M600.8 420.3h0M569.3 412.0h0M504.1 420.6h0M590.6 418.9h0M552.6 418.1h0M614.3 418.1h0M622.6 417.1h0M522.5 404.3h0M516.5 419.1h0M534.8 405.7h0M521.1 406.5h0M544.4 419.6h0M571.7 418.0h0M586.2 413.5h0M506.3 406.6h0M515.2 403.5h0M546.9 411.5h0M538.1 420.6h0M531.5 408.9h0M517.4 410.3h0M561.7 421.2h0M546.1 412.2h0M536.7 418.4h0M589.0 416.9h0M506.0 407.7h0M505.8 408.5h0M507.7 418.5h0M577.0 412.0h0M510.4 420.1h0M592.5 418.5h0M607.9 417.3h0M510.8 420.7h0M513.5 417.3h0M573.8 411.7h0M519.4 416.8h0M580.2 412.1h0M512.3 411.4h0M511.3 411.4h0M502.8 410.1h0M510.1 413.1h0M523.4 420.6h0M615.9 419.9h0M600.8 415.9h0M547.0 420.0h0M551.2 416.9h0M521.8 415.0h0M561.4 419.5h0M593.2 418.6h0M536.4 411.0h0M513.8 417.2h0M596.7 420.2h0M518.5 407.7h0M512.7 406.1h0M507.6 407.9h0M503.4 404.9h0M620.3 416.2h0M587.1 420.0h0M584.6 418.6h0M615.4 416.4h0M565.5 411.5h0M517.0 419.3h0M515.1 406.6h0M569.9 420.4h0M541.5 420.3h0M522.8 405.9h0M507.4 405.7h0M525.7 418.5h0M517.2 410.1h0M604.7 418.6h0M593.9 416.3h0M523.9 416.7h0M532.1 409.0h0M616.1 416.6h0M578.3 419.4h0M600.1 417.8h0M512.3 415.9h0M506.1 415.0h0M621.7 419.4h0M553.0 420.0h0M615.6 420.2h0M520.2 404.5h0M503.6 403.7h0M545.3 417.8h0M597.0 421.3h0M601.6 416.7h0M516.4 414.6h0M551.5 417.2h0M510.8 405.4h0M503.7 404.4h0M515.9 417.7h0M507.5 416.5h0M591.7 415.7h0M512.9 420.1h0M532.2 413.6h0M508.1 410.1h0M587.6 417.9h0M502.3 417.4h0M572.1 417.7h0M550.1 412.7h0M547.0 416.3h0M508.7 402.8h0M512.4 413.4h0M535.0 407.0h0M610.8 415.0h0M537.2 412.4h0M573.4 419.2h0M591.5 414.1h0M532.2 413.4h0M624.2 416.6h0M519.0 413.3h0M536.9 414.0h0M559.6 419.5h0M504.8 415.4h0M517.4 406.1h0M571.6 415.5h0M603.8 417.6h0M514.3 419.9h0M586.6 419.7h0M522.3 406.1h0M622.8 418.3h0M568.8 419.1h0M574.0 421.4h0M548.7 415.4h0M503.4 403.8h0M570.2 413.6h0M573.4 417.6h0M507.5 404.6h0M611.1 419.3h0M518.5 413.0h0M510.7 413.6h0M567.0 420.9h0M531.4 411.3h0M618.4 418.7h0M509.9 412.4h0M597.8 417.0h0M617.9 419.7h0M615.4 419.0h0M555.7 414.5h0M509.6 407.5h0M541.2 410.3h0M523.0 405.4h0M539.1 411.4h0M513.2 404.8h0M533.4 409.4h0M509.1 419.4h0M553.2 421.0h0M504.8 414.9h0M546.2 412.9h0M547.1 420.6h0M552.1 421.5h0M599.1 419.0h0M594.8 418.3h0M506.3 419.3h0M510.5 407.7h0M531.7 405.8h0M502.3 406.1h0M591.0 418.0h0M590.5 413.9h0M531.9 416.8h0M546.6 413.1h0M551.5 413.4h0M553.6 416.5h0M541.6 409.9h0M507.7 412.6h0M510.7 411.5h0M513.7 417.6h0M543.3 411.1h0M540.9 414.2h0M556.2 416.5h0M597.2 415.1h0M596.5 414.8h0M558.5 417.4h0M563.9 412.0h0M604.0 418.8h0M520.5 406.6h0M562.0 416.7h0M529.9 419.3h0M544.4 420.8h0M552.2 419.9h0M578.8 419.3h0M553.7 412.7h0M560.6 417.1h0M615.3 419.8h0M590.4 419.6h0M631.7 418.1h0M601.7 419.8h0M507.7 410.2h0M555.2 416.4h0M513.2 411.9h0M602.2 419.5h0M516.4 410.0h0M529.1 406.9h0M502.0 416.5h0M508.8 416.0h0M512.2 406.0h0M605.8 416.6h0M552.6 414.5h0M545.5 412.3h0M613.3 418.4h0M613.0 418.3h0M503.2 417.7h0M509.3 407.6h0M533.7 407.2h0M552.0 417.5h0M509.9 417.6h0M527.5 412.6h0M505.9 413.4h0M541.7 410.7h0M588.3 420.7h0M552.0 418.4h0M515.6 409.4h0M511.1 415.6h0M507.2 411.3h0M517.2 416.9h0M545.9 414.2h0M554.8 418.5h0M507.9 416.1h0M583.9 415.2h0M503.4 404.3h0M532.4 409.8h0M505.1 416.7h0M503.0 414.0h0M600.6 418.2h0M600.7 419.4h0M614.8 416.0h0M572.4 419.0h0M553.7 420.0h0M505.2 413.1h0M577.3 421.2h0M510.6 413.5h0M561.3 415.5h0M559.5 417.6h0M542.7 421.0h0M544.0 410.1h0M503.6 406.1h0M582.0 419.5h0M515.9 419.3h0M608.9 416.4h0M511.3 409.7h0M593.8 420.7h0M531.3 409.0h0M554.0 413.8h0M595.7 420.5h0M586.3 412.1h0M519.6 406.8h0M608.9 415.1h0M530.0 411.7h0M538.4 413.9h0M561.5 417.5h0M521.1 416.2h0M516.1 407.2h0M539.2 412.6h0M532.1 407.9h0M608.4 417.5h0M528.3 411.6h0M552.1 408.4h0M501.8 415.7h0M509.5 420.7h0M524.8 417.5h0M537.8 415.2h0M517.9 420.3h0M562.5 418.6h0M502.0 407.0h0M531.5 420.7h0M564.0 421.3h0M585.7 420.7h0M533.8 407.0h0M553.1 420.8h0M507.2 407.7h0M517.5 403.7h0M587.9 414.9h0M532.6 421.1h0M518.1 419.3h0M508.6 403.1h0M595.7 420.8h0M502.3 409.2h0M588.3 419.3h0M537.0 407.7h0M515.7 412.1h0M509.0 419.1h0M519.9 413.9h0M529.9 412.0h0M568.2 419.1h0M509.5 408.0h0M588.7 418.5h0M528.4 418.6h0M535.0 417.5h0M528.6 416.2h0M513.4 414.2h0M561.8 416.0h0M597.3 420.5h0M582.8 412.9h0M544.0 415.7h0M540.1 414.4h0M527.7 404.1h0M534.4 408.5h0M516.1 403.8h0M549.3 414.5h0M530.9 415.3h0M520.8 418.8h0M552.2 410.9h0M547.2 412.5h0M502.7 411.7h0M535.2 417.1h0M519.8 406.3h0M537.8 415.4h0M539.4 417.5h0M554.1 415.4h0M595.5 420.1h0M504.2 419.8h0M541.2 410.4h0M538.2 414.4h0M513.9 413.4h0M519.3 405.6h0M585.5 417.4h0M584.2 419.0h0M533.9 418.9h0M523.7 415.7h0M535.3 411.3h0M568.5 421.4h0M530.2 405.3h0M519.9 405.7h0M606.7 421.0h0M603.6 417.8h0M548.1 415.5h0M537.0 416.6h0M555.0 416.4h0M523.9 421.5h0M525.6 406.1h0M521.3 406.3h0M509.2 418.8h0M589.9 420.1h0M510.0 412.0h0M507.1 412.4h0M604.8 418.0h0M532.3 417.0h0M559.8 418.6h0M606.1 416.6h0M593.4 417.8h0M543.6 416.5h0M582.1 413.6h0M505.6 409.7h0M540.2 413.0h0M574.3 414.7h0M530.7 409.9h0M506.0 411.8h0M527.1 408.5h0M610.2 414.5h0M560.0 416.0h0M502.3 408.6h0M516.2 415.8h0M542.1 416.0h0M538.8 416.2h0M502.7 415.3h0M517.8 415.4h0M520.7 415.4h0M580.6 419.3h0M543.9 414.2h0M517.4 414.3h0M571.0 414.6h0M536.7 411.8h0M598.0 419.3h0M547.3 420.3h0M537.8 421.0h0M543.6 410.0h0M556.2 418.2h0M623.9 418.0h0M561.9 419.9h0M509.8 416.5h0M547.5 413.7h0M578.3 412.2h0M508.6 403.7h0M501.7 418.4h0M508.5 414.8h0M526.8 419.3h0M504.6 406.7h0M539.3 419.6h0M550.4 415.9h0M533.7 419.4h0M573.6 417.7h0M521.2 414.3h0M549.6 415.5h0M533.3 410.9h0M555.1 418.9h0M546.2 413.8h0M503.7 420.2h0M556.4 417.5h0M596.7 414.5h0M515.1 416.2h0M513.2 412.2h0M529.6 408.2h0M598.4 420.5h0M547.7 418.9h0M518.4 402.5h0M535.2 408.2h0M564.6 420.1h0M522.6 404.4h0M532.0 412.1h0M503.6 409.8h0M593.3 415.5h0M606.2 419.2h0M518.3 405.5h0M535.8 412.1h0M594.0 416.6h0M506.4 405.2h0M530.1 411.4h0M551.9 415.0h0M534.8 413.3h0M530.3 420.7h0M594.1 421.1h0M512.0 416.8h0M525.3 403.6h0M586.9 413.0h0M533.3 412.4h0M537.8 414.0h0M578.8 420.6h0M534.2 420.0h0M575.7 421.3h0M555.5 419.0h0M509.1 421.5h0M619.2 416.9h0M534.5 406.2h0M532.5 412.7h0M505.6 404.7h0M538.6 418.8h0M517.4 404.9h0M509.0 406.4h0M587.0 413.4h0M573.7 419.2h0M611.5 417.9h0M569.4 411.6h0M536.5 420.8h0M613.2 419.4h0M597.6 413.2h0M519.9 420.6h0M553.5 413.5h0M511.8 417.4h0M603.3 420.4h0M529.7 420.8h0M521.6 413.4h0M575.6 418.7h0M532.4 413.9h0M547.3 418.5h0M576.1 412.7h0M573.5 420.1h0M621.9 418.3h0M538.6 416.4h0M510.1 408.0h0M572.8 413.1h0M622.1 416.2h0M528.2 412.2h0M598.3 417.8h0M509.0 416.7h0M575.5 419.2h0M533.0 407.6h0M524.8 412.3h0M531.9 414.0h0M597.8 419.6h0M522.6 403.4h0M537.7 416.2h0M522.7 415.5h0M621.6 416.8h0M542.3 410.4h0M536.6 409.6h0M509.2 419.3h0M566.3 419.4h0M538.7 410.7h0M518.9 416.6h0M529.3 414.6h0M513.7 421.2h0M510.7 406.1h0M524.0 420.6h0M535.9 410.5h0M517.1 411.1h0M504.4 418.6h0M534.7 408.4h0M554.2 421.4h0M558.5 418.0h0M583.4 412.6h0M610.1 418.1h0M526.6 411.2h0M559.2 416.7h0M628.2 417.3h0M544.0 419.0h0M532.8 421.4h0M517.3 405.4h0M587.5 421.5h0M554.6 410.8h0M564.7 412.0h0M543.0 420.6h0M564.0 415.3h0M511.6 410.9h0M609.1 416.1h0M597.7 421.1h0M532.7 411.9h0M602.8 419.6h0M541.3 411.5h0M554.0 410.7h0M547.1 410.3h0M570.9 414.2h0M507.1 409.8h0M538.4 417.0h0M611.8 418.8h0M508.6 416.9h0M535.1 416.7h0M503.8 406.7h0M505.8 414.9h0M515.6 407.8h0M517.9 412.5h0M547.1 412.8h0M553.6 413.5h0M615.4 415.0h0M552.6 413.2h0M563.2 414.6h0M630.4 416.7h0M528.5 405.8h0M532.5 408.3h0M504.1 408.0h0M572.4 418.4h0M511.5 421.0h0M588.7 415.0h0M611.7 420.3h0M546.4 417.1h0M528.4 406.9h0M513.4 408.2h0M541.1 418.2h0M527.8 420.4h0M554.9 419.8h0M513.9 414.9h0M530.6 415.0h0M607.1 415.9h0M535.2 408.4h0M503.4 414.2h0M521.0 406.6h0M507.7 416.8h0M521.7 417.5h0M602.0 418.1h0M513.4 410.8h0M560.6 419.9h0M527.1 413.7h0M625.0 418.7h0M549.8 420.9h0M525.6 402.2h0M507.8 411.6h0M555.0 417.9h0M527.8 410.7h0M567.4 410.9h0M571.9 421.0h0M560.5 416.6h0M529.5 419.5h0M528.0 408.4h0M532.0 420.5h0M532.4 419.0h0M534.3 411.9h0M598.0 419.3h0M544.9 415.4h0M543.5 413.3h0M531.2 406.0h0M547.3 419.1h0M507.3 409.9h0M563.4 415.8h0M593.6 420.3h0M521.7 405.5h0M514.4 404.2h0M559.0 417.4h0M572.8 411.4h0M554.9 416.5h0M555.5 413.9h0M501.9 411.6h0M592.2 420.0h0M573.7 417.4h0M536.3 411.4h0M535.6 418.2h0M523.1 419.7h0M557.8 417.4h0M532.8 417.3h0M537.6 414.9h0M527.6 402.6h0M546.9 418.3h0M513.8 413.8h0M525.3 402.0h0M512.9 407.0h0M575.9 418.6h0M505.2 420.8h0M534.0 406.6h0M528.6 419.3h0M563.6 412.6h0M519.4 411.6h0M585.5 417.4h0M508.1 414.5h0M568.0 420.4h0M516.5 404.8h0M511.4 405.6h0M576.1 413.9h0M557.2 419.0h0M512.1 404.0h0M575.3 419.7h0M570.5 412.5h0M613.3 420.1h0M547.1 410.8h0M503.3 417.7h0M540.2 420.2h0M611.6 419.6h0M509.3 411.5h0M520.3 403.8h0M545.4 412.3h0M616.5 419.1h0M549.1 411.7h0M527.2 403.3h0M615.0 417.9h0M564.4 417.9h0M595.0 419.1h0M544.1 411.3h0M549.3 415.2h0M505.8 418.1h0M571.8 416.6h0M529.3 414.6h0M592.2 414.2h0M554.7 415.5h0M528.7 406.0h0M524.8 421.5h0M618.3 418.4h0M537.8 411.5h0M521.7 420.7h0M590.4 417.2h0M606.7 420.4h0M514.1 407.0h0M514.8 419.5h0M608.2 419.3h0M621.1 417.1h0M608.6 415.9h0M584.2 418.5h0M508.8 416.9h0M536.5 413.3h0M551.6 412.1h0M531.0 419.6h0M516.1 412.6h0M566.6 420.7h0M536.9 407.7h0M596.8 416.1h0M531.8 419.4h0M544.0 417.8h0M526.1 403.4h0M510.7 407.6h0M545.7 416.8h0M551.1 410.8h0M525.6 407.3h0M575.7 415.8h0M510.3 413.4h0M617.0 419.7h0M592.8 421.2h0M533.0 410.2h0M514.8 410.1h0M511.0 414.8h0M546.5 411.5h0M525.3 404.9h0M529.1 418.2h0M598.8 420.5h0M553.7 414.2h0M556.8 420.8h0M526.9 401.8h0M502.2 412.0h0M527.5 414.1h0M549.7 411.0h0M596.4 418.6h0M552.6 413.2h0M527.5 421.2h0M548.2 411.6h0M621.8 415.8h0M602.1 419.7h0M592.1 419.5h0M567.8 412.4h0M549.6 416.6h0M525.7 404.5h0M588.2 413.0h0M573.4 413.2h0M547.4 412.0h0M535.4 419.9h0M552.5 409.7h0M588.7 420.7h0M525.6 414.4h0M597.3 414.8h0M615.0 419.4h0M508.1 420.1h0M544.1 411.5h0M514.9 411.9h0M532.4 413.8h0M522.8 404.7h0M516.2 409.7h0M539.4 417.7h0M517.0 418.3h0M601.5 421.2h0M503.7 409.4h0M505.9 418.2h0M556.3 418.3h0M571.4 414.3h0M514.4 414.8h0M506.4 418.3h0M543.9 418.8h0M537.7 404.3h0M523.1 395.2h0M548.7 407.9h0M514.7 398.9h0M503.6 399.6h0M505.9 398.1h0M515.8 399.3h0M510.2 399.8h0M510.7 394.1h0M522.8 397.6h0M364.7 105.3h0M338.5 197.1h0M409.9 246.1h0M362.9 257.3h0M420.0 273.4h0M366.6 278.1h0M376.1 285.8h0M290.5 289.8h0M348.5 290.2h0M284.5 309.4h0M340.5 308.4h0M398.5 316.5h0M376.8 329.6h0M175.1 395.7h0M191.9 398.8h0M206.0 400.8h0M207.8 401.4h0M220.0 403.3h0M224.3 404.0h0M234.2 405.8h0M235.8 406.0h0M315.5 347.5h0M335.4 360.4h0M341.3 370.3h0M349.3 334.9h0M349.3 368.7h0M289.8 376.1h0M291.5 390.9h0M285.8 396.7h0M292.7 397.5h0M303.4 393.3h0M297.1 405.1h0M312.5 396.7h0M312.7 399.2h0M313.4 404.7h0M320.0 394.4h0M339.9 384.3h0M336.9 390.0h0M333.1 396.0h0M338.6 397.1h0M329.0 400.8h0M348.9 396.4h0M337.2 406.0h0M327.6 408.1h0M330.0 407.5h0M316.6 411.5h0M346.1 403.3h0M376.8 330.8h0M407.6 337.1h0M421.7 342.6h0M359.0 358.1h0M395.4 355.9h0M412.4 355.9h0M350.3 368.7h0M432.7 366.2h0M430.7 367.9h0M428.6 369.2h0M425.4 370.1h0M381.2 373.5h0M361.0 378.6h0M386.7 378.8h0M388.1 381.3h0M389.0 383.4h0M406.9 377.2h0M415.8 373.8h0M417.6 375.8h0M414.9 378.6h0M421.0 381.6h0M427.5 377.2h0M373.7 384.9h0M408.7 385.4h0M430.9 385.4h0M340.0 384.3h0M368.8 390.9h0M360.6 393.3h0M348.5 396.7h0M377.1 392.3h0M386.0 390.7h0M390.1 392.3h0M373.7 396.4h0M368.4 399.6h0M399.8 393.7h0M405.9 394.4h0M410.7 395.7h0M432.0 391.6h0M427.9 395.0h0M597.4 175.0h0M607.3 233.0h0M515.4 269.9h0M595.7 286.4h0M670.5 286.7h0M531.2 299.6h0M562.1 317.0h0M501.8 321.3h0M590.8 326.9h0M504.1 377.9h0M510.3 357.0h0M511.0 363.7h0M515.1 373.4h0M520.6 368.0h0M523.4 376.5h0M526.1 354.5h0M529.3 346.3h0M512.4 385.4h0M510.3 388.2h0M521.3 390.0h0M504.1 389.6h0M508.3 395.0h0M514.4 396.4h0M525.4 395.0h0M555.4 335.4h0M593.9 358.4h0M552.6 374.5h0M547.5 379.7h0M577.4 374.5h0M572.9 380.0h0M570.5 383.4h0M533.3 383.7h0M552.6 386.5h0M563.7 384.5h0M576.6 388.5h0M531.7 390.2h0M565.1 391.9h0M540.6 392.6h0M542.7 391.9h0M588.3 395.7h0M574.5 399.9h0M542.0 401.2h0M544.0 404.0h0M565.0 401.9h0M570.8 404.7h0M585.2 404.7h0M588.0 407.4h0M582.5 411.3h0M631.3 396.6h0M615.2 407.0h0M625.1 409.8h0M610.7 412.2h0M596.9 411.5h0M618.9 410.9h0M702.0 405.4h0M702.0 410.2h0M709.6 405.6h0M686.2 414.3h0M782.2 404.6h0M757.7 397.1h0M739.6 400.2h0M738.2 400.8h0M731.3 401.5h0M714.2 404.0h0M710.7 405.7h0M686.0 415.6h0M259.5 413.6h0M258.3 412.9h0M244.5 409.3h0M271.5 414.2h0M272.8 415.0h0M278.5 416.4h0M279.5 417.6h0M252.0 411.3h0M265.5 413.6h0M286.0 417.6h0M687.2 413.0h0M685.2 417.0h0M686.0 415.0h0M504.3 377.9h0M515.3 373.4h0M523.3 376.4h0M552.5 374.5h0M547.5 379.8h0M533.4 383.6h0M552.6 386.2h0M563.6 384.7h0M513.4 384.7h0M510.7 387.7h0M521.2 390.2h0M531.5 390.0h0M540.5 392.0h0M542.5 392.3h0M564.7 391.5h0M504.5 389.3h0M507.3 394.9h0M525.1 394.5h0M514.5 396.4h0M542.1 401.3h0M544.0 404.0h0M531.1 402.1h0M520.2 397.9h0M505.8 400.2h0M552.3 406.3h0M536.8 406.6h0M503.0 397.0h0M509.5 399.5h0M517.0 399.8h0M527.0 398.6h0" fill="none" stroke="#e51f1d" stroke-width="5.50" stroke-linecap="round"/>
<path d="M438.3 105.3V421.5" stroke="#000" stroke-width="2.6" fill="none"/>
<path d="M500.8 105.5V421.8" stroke="#000" stroke-width="2.5" stroke-dasharray="10.1 9.3" stroke-dashoffset="3.9" fill="none"/>
<path d="M176.6 420.5H783.5" stroke="#000" stroke-width="3.5" stroke-dasharray="0 6" stroke-linecap="round" fill="none"/>
<text x="156.2" y="456.8" font-size="14.00" text-anchor="middle" fill="#383838" stroke="#383838" stroke-width="0.3" font-family="DejaVu Sans, Liberation Sans, sans-serif" textLength="23.4" lengthAdjust="spacingAndGlyphs" >−15</text>
<text x="260.7" y="456.8" font-size="14.00" text-anchor="middle" fill="#383838" stroke="#383838" stroke-width="0.3" font-family="DejaVu Sans, Liberation Sans, sans-serif" textLength="23.4" lengthAdjust="spacingAndGlyphs" >−10</text>
<text x="365.2" y="456.8" font-size="14.00" text-anchor="middle" fill="#383838" stroke="#383838" stroke-width="0.3" font-family="DejaVu Sans, Liberation Sans, sans-serif" textLength="16.5" lengthAdjust="spacingAndGlyphs" >−5</text>
<text x="469.7" y="456.8" font-size="14.00" text-anchor="middle" fill="#383838" stroke="#383838" stroke-width="0.3" font-family="DejaVu Sans, Liberation Sans, sans-serif" textLength="7.6" lengthAdjust="spacingAndGlyphs" >0</text>
<text x="574.3" y="456.8" font-size="14.00" text-anchor="middle" fill="#383838" stroke="#383838" stroke-width="0.3" font-family="DejaVu Sans, Liberation Sans, sans-serif" textLength="7.6" lengthAdjust="spacingAndGlyphs" >5</text>
<text x="678.9" y="456.8" font-size="14.00" text-anchor="middle" fill="#383838" stroke="#383838" stroke-width="0.3" font-family="DejaVu Sans, Liberation Sans, sans-serif" textLength="15.4" lengthAdjust="spacingAndGlyphs" >10</text>
<text x="783.5" y="456.8" font-size="14.00" text-anchor="middle" fill="#383838" stroke="#383838" stroke-width="0.3" font-family="DejaVu Sans, Liberation Sans, sans-serif" textLength="15.4" lengthAdjust="spacingAndGlyphs" >15</text>
<text x="124.2" y="426.5" font-size="14.00" text-anchor="end" fill="#383838" stroke="#383838" stroke-width="0.3" font-family="DejaVu Sans, Liberation Sans, sans-serif" textLength="7.4" lengthAdjust="spacingAndGlyphs" >0</text>
<text x="124.2" y="368.2" font-size="14.00" text-anchor="end" fill="#383838" stroke="#383838" stroke-width="0.3" font-family="DejaVu Sans, Liberation Sans, sans-serif" textLength="14.8" lengthAdjust="spacingAndGlyphs" >50</text>
<text x="124.2" y="309.9" font-size="14.00" text-anchor="end" fill="#383838" stroke="#383838" stroke-width="0.3" font-family="DejaVu Sans, Liberation Sans, sans-serif" textLength="22.2" lengthAdjust="spacingAndGlyphs" >100</text>
<text x="124.2" y="251.6" font-size="14.00" text-anchor="end" fill="#383838" stroke="#383838" stroke-width="0.3" font-family="DejaVu Sans, Liberation Sans, sans-serif" textLength="22.2" lengthAdjust="spacingAndGlyphs" >150</text>
<text x="124.2" y="193.3" font-size="14.00" text-anchor="end" fill="#383838" stroke="#383838" stroke-width="0.3" font-family="DejaVu Sans, Liberation Sans, sans-serif" textLength="22.2" lengthAdjust="spacingAndGlyphs" >200</text>
<text x="124.2" y="135.0" font-size="14.00" text-anchor="end" fill="#383838" stroke="#383838" stroke-width="0.3" font-family="DejaVu Sans, Liberation Sans, sans-serif" textLength="22.2" lengthAdjust="spacingAndGlyphs" >250</text>
<text x="240.8" y="482.9" font-size="15.00" text-anchor="start" fill="#383838" stroke="#383838" stroke-width="0.3" font-family="DejaVu Sans, Liberation Sans, sans-serif" textLength="92.4" lengthAdjust="spacingAndGlyphs" >higher in TLR</text>
<text x="389.5" y="482.9" font-size="15.00" text-anchor="start" fill="#383838" stroke="#383838" stroke-width="0.3" font-family="DejaVu Sans, Liberation Sans, sans-serif" textLength="164.0" lengthAdjust="spacingAndGlyphs" >&lt;&lt; log2FoldChange &gt;&gt;</text>
<text x="610.0" y="482.9" font-size="15.00" text-anchor="start" fill="#383838" stroke="#383838" stroke-width="0.3" font-family="DejaVu Sans, Liberation Sans, sans-serif" textLength="89.3" lengthAdjust="spacingAndGlyphs" >higher in WT</text>
<text transform="translate(89.1 313.3) rotate(-90)" font-size="15" fill="#383838" stroke="#3d3d3d" stroke-width="0.3" font-family="DejaVu Sans, Liberation Sans, sans-serif" textLength="99.5" lengthAdjust="spacingAndGlyphs">-log(10) padj</text>
<path d="M1012.6 77.8V443.0M1104.7 77.8V443.0M1196.8 77.8V443.0M1288.9 77.8V443.0M1473.1 77.8V443.0M1565.2 77.8V443.0M1657.3 77.8V443.0M1749.4 77.8V443.0M1002.5 364.0H1759.5M1002.5 306.4H1759.5M1002.5 248.7H1759.5M1002.5 191.1H1759.5M1002.5 133.4H1759.5" stroke="#f0f0f0" stroke-width="1.3" fill="none"/>
<path d="M1381.6 77.8V443.0M1002.5 421.7H1759.5" stroke="#868686" stroke-width="1.9" fill="none"/>
<path d="M1371.5 403.7h0M1372.5 406.6h0M1366.2 392.4h0M1374.8 409.4h0M1378.2 415.7h0M1374.9 407.4h0M1376.1 411.4h0M1366.6 390.9h0M1372.3 400.3h0M1366.0 387.8h0M1367.7 388.9h0M1364.6 387.4h0M1372.7 404.3h0M1369.2 399.3h0M1372.8 399.8h0M1370.1 401.8h0M1375.7 408.8h0M1370.6 406.2h0M1374.5 410.2h0M1375.8 414.5h0M1372.7 403.3h0M1372.8 411.3h0M1370.7 404.4h0M1370.8 400.8h0M1366.3 391.3h0M1370.6 402.1h0M1374.4 416.1h0M1371.3 400.7h0M1371.4 398.5h0M1379.6 416.4h0M1365.2 388.4h0M1377.3 413.7h0M1377.7 416.8h0M1375.9 408.7h0M1376.2 415.5h0M1374.5 416.6h0M1370.3 394.9h0M1378.5 413.7h0M1375.0 415.4h0M1373.5 412.1h0M1369.0 399.9h0M1368.9 391.9h0M1365.9 387.2h0M1375.2 416.0h0M1378.6 414.7h0M1371.7 398.9h0M1369.3 393.3h0M1364.5 387.5h0M1372.9 407.7h0M1370.8 398.9h0M1373.7 411.9h0M1368.4 397.5h0M1366.4 392.3h0M1374.2 405.1h0M1375.6 413.7h0M1373.3 413.8h0M1372.4 398.5h0M1374.5 405.6h0M1374.4 408.7h0M1366.0 390.7h0M1368.3 395.2h0M1371.1 407.0h0M1365.9 389.6h0M1374.3 406.1h0M1373.0 406.1h0M1372.2 399.5h0M1374.0 404.3h0M1377.3 411.3h0M1379.8 418.9h0M1373.2 401.8h0M1373.8 415.5h0M1368.2 393.7h0M1375.9 410.0h0M1369.8 399.6h0M1371.5 400.0h0M1377.6 418.3h0M1369.7 399.7h0M1366.2 389.5h0M1370.5 400.9h0M1374.6 404.7h0M1372.7 407.1h0M1374.1 411.5h0M1376.3 409.5h0M1365.0 388.6h0M1369.7 393.0h0M1371.5 396.2h0M1376.3 410.0h0M1368.9 392.9h0M1373.1 404.0h0M1364.9 388.2h0M1378.6 418.8h0M1379.4 416.9h0M1368.7 390.2h0M1375.9 415.7h0M1378.4 417.4h0M1374.5 417.0h0M1373.6 413.8h0M1368.2 389.6h0M1370.2 395.6h0M1371.1 405.6h0M1373.4 414.4h0M1375.8 417.4h0M1369.6 401.4h0M1371.2 400.6h0M1371.9 410.5h0M1374.3 405.9h0M1369.6 394.3h0M1372.3 410.5h0M1367.1 394.2h0M1371.5 404.4h0M1373.2 414.5h0M1374.2 409.7h0M1373.1 402.5h0M1372.1 397.2h0M1374.0 412.8h0M1371.6 408.8h0M1374.2 410.5h0M1371.8 407.1h0M1369.1 393.0h0M1366.3 388.5h0M1371.5 399.9h0M1365.7 388.7h0M1367.2 390.8h0M1369.4 393.2h0M1374.5 410.0h0M1370.7 404.9h0M1375.0 406.5h0M1371.7 409.3h0M1369.6 396.4h0M1369.4 399.3h0M1371.4 402.1h0M1371.1 400.3h0M1373.3 400.5h0M1374.2 417.1h0M1371.5 408.9h0M1379.1 418.3h0M1366.0 392.1h0M1374.1 414.3h0M1375.2 406.6h0M1376.5 417.6h0M1370.3 402.2h0M1374.3 408.2h0M1370.8 396.1h0M1369.0 396.2h0M1373.8 416.4h0M1371.1 396.6h0M1369.8 395.7h0M1370.6 406.6h0M1370.5 405.1h0M1375.2 409.5h0M1372.6 399.4h0M1367.8 390.3h0M1365.0 388.6h0M1369.3 394.3h0M1369.8 401.5h0M1373.5 402.4h0M1370.8 394.8h0M1366.9 393.9h0M1374.3 406.0h0M1369.2 395.2h0M1371.7 404.6h0M1372.3 407.7h0M1372.5 403.8h0M1374.3 415.5h0M1370.8 398.1h0M1372.0 403.2h0M1375.3 407.1h0M1374.1 409.9h0M1374.4 409.7h0M1373.5 409.9h0M1376.6 418.7h0M1372.7 404.4h0M1367.0 394.2h0M1372.4 409.6h0M1373.9 403.8h0M1366.6 387.9h0M1365.9 388.1h0M1369.3 399.0h0M1368.4 395.5h0M1370.2 401.2h0M1371.3 402.5h0M1366.9 389.9h0M1367.7 394.1h0M1371.9 402.7h0M1373.3 409.7h0M1376.0 420.1h0M1374.3 408.5h0M1371.9 399.8h0M1375.4 417.6h0M1365.1 388.9h0M1376.0 414.0h0M1373.8 403.8h0M1367.4 390.6h0M1372.0 404.7h0M1364.1 386.9h0M1373.1 403.2h0M1368.6 397.5h0M1369.2 391.6h0M1367.8 394.9h0M1365.5 389.8h0M1379.1 419.0h0M1370.6 395.8h0M1369.7 402.3h0M1378.5 418.4h0M1368.1 394.1h0M1368.2 394.0h0M1373.0 404.2h0M1370.2 396.1h0M1377.2 414.9h0M1369.1 392.9h0M1370.9 398.1h0M1377.1 410.8h0M1364.7 387.2h0M1371.1 397.0h0M1371.1 404.1h0M1371.6 408.8h0M1368.0 392.5h0M1364.1 386.4h0M1365.5 386.4h0M1369.7 401.5h0M1377.2 417.8h0M1377.1 415.6h0M1376.9 411.2h0M1368.7 398.4h0M1367.6 390.3h0M1374.5 413.0h0M1371.3 396.1h0M1374.1 406.1h0M1367.0 387.3h0M1372.0 398.3h0M1387.0 417.8h0M1397.7 390.1h0M1397.6 390.2h0M1397.2 390.6h0M1392.5 400.1h0M1384.3 414.9h0M1389.3 407.4h0M1395.0 398.1h0M1398.9 386.9h0M1393.8 394.1h0M1383.5 416.8h0M1399.6 389.4h0M1391.9 401.4h0M1391.9 396.6h0M1392.8 403.4h0M1386.4 419.3h0M1386.0 417.5h0M1385.1 412.8h0M1385.3 417.6h0M1399.6 385.9h0M1389.8 403.8h0M1388.5 406.5h0M1392.3 406.4h0M1388.4 415.6h0M1396.7 392.1h0M1394.8 395.6h0M1399.7 385.2h0M1397.0 394.0h0M1395.3 397.7h0M1386.1 418.3h0M1394.5 392.8h0M1393.1 401.1h0M1393.8 395.8h0M1398.5 392.3h0M1386.7 411.3h0M1398.1 391.8h0M1392.7 405.2h0M1400.8 386.4h0M1388.1 405.7h0M1384.4 419.3h0M1388.7 403.8h0M1389.7 412.7h0M1395.4 393.4h0M1388.5 417.1h0M1400.0 389.1h0M1395.0 396.1h0M1388.8 410.4h0M1383.8 419.5h0M1385.4 412.6h0M1395.2 394.3h0M1390.5 409.1h0M1394.1 397.5h0M1398.4 388.3h0M1388.9 403.2h0M1396.3 394.6h0M1384.4 418.5h0M1387.5 418.1h0M1391.9 397.6h0M1396.1 396.1h0M1398.3 389.4h0M1384.4 418.9h0M1389.4 410.9h0M1390.9 408.7h0M1390.5 410.7h0M1399.8 388.0h0M1386.9 419.3h0M1397.2 389.6h0M1394.2 393.4h0M1388.2 408.2h0M1387.7 414.7h0M1400.8 386.0h0M1399.3 387.1h0M1385.4 415.0h0M1396.9 391.1h0M1391.3 408.1h0M1392.4 397.8h0M1397.6 389.1h0M1388.1 413.0h0M1392.1 402.5h0M1397.8 391.9h0M1388.3 414.2h0M1386.1 410.8h0M1388.3 409.1h0M1389.8 401.3h0M1393.0 397.0h0M1400.8 385.8h0M1398.5 391.6h0M1393.3 398.5h0M1388.2 417.8h0M1401.5 387.2h0M1384.4 416.5h0M1387.6 408.1h0M1386.4 410.1h0M1393.9 399.3h0M1391.0 408.5h0M1398.6 390.0h0M1397.7 389.6h0M1393.3 398.3h0M1387.6 420.9h0M1388.5 410.7h0M1396.7 392.3h0M1389.1 416.5h0M1398.5 389.8h0M1387.0 407.5h0M1391.3 409.6h0M1395.0 392.7h0M1392.3 395.9h0M1393.2 402.9h0M1385.2 419.0h0M1399.4 386.0h0M1392.1 404.2h0M1398.0 390.7h0M1392.5 399.2h0M1395.7 397.1h0M1393.0 395.8h0M1387.9 411.7h0M1395.0 396.9h0M1387.1 409.6h0M1387.4 417.3h0M1382.5 417.9h0M1392.0 404.6h0M1400.1 385.8h0M1387.8 406.8h0M1385.0 414.6h0M1397.4 392.6h0M1395.6 395.8h0M1389.9 413.7h0M1390.8 400.5h0M1396.4 391.4h0M1386.5 419.9h0M1389.1 416.4h0M1397.4 390.4h0M1400.6 386.8h0M1391.0 400.1h0M1399.5 389.0h0M1387.9 409.3h0M1388.1 409.0h0M1400.0 387.7h0M1394.0 398.0h0M1386.2 418.0h0M1395.4 391.7h0M1399.7 387.8h0M1387.7 420.4h0M1391.7 405.8h0M1399.4 385.6h0M1388.5 410.2h0M1389.9 409.7h0M1389.6 406.9h0M1391.5 405.6h0M1391.4 400.3h0M1398.4 389.7h0M1399.9 385.3h0M1387.1 417.1h0M1397.7 388.4h0M1390.6 408.1h0M1395.4 394.6h0M1395.7 396.4h0M1391.8 398.9h0M1386.8 412.3h0M1398.3 392.2h0M1388.5 406.6h0M1399.5 385.6h0M1389.6 405.9h0M1393.3 394.3h0M1392.9 394.8h0M1387.3 412.5h0M1395.3 392.5h0M1392.3 395.6h0M1386.0 414.0h0M1387.5 417.9h0M1393.6 399.6h0M1391.2 403.2h0M1387.6 419.9h0M1389.8 409.0h0M1397.8 390.3h0M1390.7 408.0h0M1398.2 392.7h0M1389.5 405.2h0M1391.8 401.9h0M1395.2 396.8h0M1392.4 396.8h0M1397.2 393.4h0M1396.7 390.1h0M1391.8 406.1h0M1388.5 405.4h0M1386.4 419.1h0M1384.4 418.6h0M1389.5 403.0h0M1391.9 403.9h0M1384.8 417.1h0M1394.5 396.5h0M1391.3 399.4h0M1391.6 407.9h0M1390.3 402.3h0M1389.4 402.5h0M1394.0 399.9h0M1392.1 395.7h0M1397.1 390.1h0M1384.1 418.2h0M1389.7 400.1h0M1400.6 385.7h0M1385.9 420.1h0M1399.4 385.6h0M1385.0 413.5h0M1389.2 406.7h0M1387.8 419.9h0M1395.6 392.6h0M1393.2 397.4h0M1396.3 391.5h0M1400.8 387.3h0M1393.4 397.7h0M1392.2 395.7h0M1398.9 389.2h0M1386.8 412.6h0M1396.1 395.1h0M1387.2 412.0h0M1399.7 385.3h0M1392.1 406.5h0M1395.3 394.5h0M1388.9 403.2h0M1395.5 393.2h0M1388.3 418.3h0M1385.8 416.8h0M1394.8 395.4h0M1391.2 406.2h0M1389.1 411.6h0M1392.5 405.6h0M1397.4 389.8h0M1398.8 389.0h0M1387.8 407.2h0M1360.0 400.8h0M1358.5 399.2h0M1339.4 392.2h0M1339.2 392.0h0M1328.3 389.4h0M1355.5 398.7h0M1343.2 394.0h0M1326.6 389.5h0M1328.1 389.9h0M1339.6 392.5h0M1348.1 394.6h0M1332.5 391.4h0M1333.8 390.7h0M1333.3 391.1h0M1342.8 394.3h0M1344.4 394.4h0M1358.6 397.9h0M1356.9 398.9h0M1331.9 390.8h0M1331.0 390.9h0M1330.0 390.4h0M1330.8 390.4h0M1353.6 397.4h0M1363.0 401.0h0M1364.9 401.0h0M1357.0 398.7h0M1351.8 396.5h0M1328.9 390.4h0M1353.2 396.8h0M1346.6 394.0h0M1345.4 394.1h0M1339.9 393.1h0M1349.3 396.1h0M1363.3 400.1h0M1339.5 393.3h0M1332.5 391.0h0M1350.9 395.5h0M1355.6 397.4h0M1335.2 391.4h0M1360.4 400.8h0M1336.4 391.8h0M1353.1 396.0h0M1345.1 393.5h0M1360.4 399.0h0M1326.5 389.3h0M1359.4 399.4h0M1354.7 397.2h0M1362.6 402.2h0M1363.2 402.3h0M1353.9 396.5h0M1343.5 394.4h0M1343.2 393.0h0M1327.4 389.8h0M1338.6 393.1h0M1331.6 390.9h0M1341.7 392.7h0M1349.1 395.8h0M1365.3 401.8h0M1339.9 392.6h0M1363.8 402.0h0M1356.2 398.7h0M1362.6 401.7h0M1331.9 390.4h0M1342.4 393.8h0M1354.5 396.5h0M1361.5 401.4h0M1328.1 389.9h0M1327.8 389.8h0M1363.2 401.7h0M1331.9 390.4h0M1342.5 393.5h0M1349.5 395.9h0M1328.4 390.0h0M1363.1 401.0h0M1352.2 396.9h0M1328.3 389.6h0M1348.9 394.6h0M1359.7 400.3h0M1327.0 389.6h0M1336.8 392.3h0M1363.6 400.3h0M1337.7 392.5h0M1359.3 398.8h0M1336.3 392.2h0M1365.6 402.9h0M1345.1 394.6h0M1335.7 391.8h0M1358.8 398.9h0M1362.1 400.2h0M1326.9 389.4h0M1360.5 399.7h0M1357.4 399.3h0M1346.8 395.3h0M1339.4 392.7h0M1359.0 398.1h0M1345.3 393.9h0M1334.9 391.9h0M1358.4 399.3h0M1346.7 394.3h0M1362.2 401.4h0M1367.0 402.3h0M1328.9 389.9h0M1343.4 393.9h0M1354.2 397.5h0M1367.0 403.9h0M1348.0 395.4h0M1342.0 394.0h0M1352.1 395.7h0M1359.2 398.0h0M1367.8 402.2h0M1410.5 396.8h0M1410.9 396.7h0M1403.7 400.3h0M1399.2 402.7h0M1399.0 402.9h0M1407.4 398.0h0M1407.2 397.4h0M1408.2 398.1h0M1405.6 399.0h0M1399.5 401.4h0M1406.6 398.3h0M1403.8 398.7h0M1396.4 403.1h0M1408.5 398.1h0M1398.8 403.3h0M1400.7 402.3h0M1402.5 400.9h0M1404.6 399.4h0M1396.7 402.0h0M1408.9 396.0h0M1405.5 399.7h0M1405.5 398.8h0M1406.7 398.7h0M1400.0 400.4h0M1400.8 401.3h0M1399.2 401.4h0M1402.8 399.6h0M1405.9 399.4h0M1404.2 400.0h0M1400.0 402.5h0M1408.3 396.5h0M1396.3 403.0h0M1399.3 400.5h0M1398.9 402.8h0M1403.4 400.0h0M1403.0 399.0h0M1410.7 396.7h0M1403.1 401.0h0M1405.9 398.3h0M1398.4 403.5h0M1396.7 402.8h0M1401.1 401.4h0M1401.3 399.6h0M1401.4 399.5h0M1405.1 399.8h0M1415.4 394.6h0M1417.5 394.0h0M1420.2 392.9h0M1423.0 392.3h0M1425.5 391.8h0M1428.0 391.2h0M1430.8 390.6h0M1438.5 388.9h0M1441.0 388.4h0M1444.2 387.9h0M1450.0 386.4h0M1454.0 386.1h0M1457.7 385.8h0M1463.5 384.9h0M1320.7 387.9h0M1318.3 388.8h0M1322.5 388.4h0M1309.6 386.9h0M1305.8 385.5h0M1302.0 384.8h0M1341.3 387.4h0M1318.3 381.8h0M1376.9 419.2h0M1380.8 416.7h0M1381.2 418.2h0M1379.6 416.9h0M1386.4 414.2h0M1381.0 418.8h0M1380.5 419.7h0M1385.0 422.0h0M1380.0 419.3h0M1375.2 416.8h0M1377.7 423.3h0M1386.0 415.8h0M1383.6 419.4h0M1385.9 422.8h0M1385.3 415.2h0M1379.4 419.0h0M1383.9 422.0h0M1384.7 416.1h0M1385.6 414.7h0M1382.0 422.2h0M1384.1 413.8h0M1382.8 421.4h0M1381.9 423.4h0M1377.1 422.8h0M1379.6 421.1h0M1387.6 420.3h0M1379.7 414.8h0M1383.7 423.0h0M1375.6 417.9h0M1376.4 417.8h0M1386.7 420.3h0M1381.5 419.2h0M1379.1 421.7h0M1384.2 416.9h0M1381.2 418.2h0M1381.6 420.2h0M1381.7 421.0h0M1379.8 417.6h0M1380.6 416.3h0M1385.0 414.4h0M1385.6 419.5h0M1383.1 422.4h0M1381.9 417.5h0M1381.0 420.9h0M1382.5 419.1h0M1381.1 417.4h0M1379.9 416.7h0M1385.3 418.8h0M1381.7 418.5h0M1380.8 418.3h0M1377.6 415.3h0M1379.3 417.8h0M1383.0 420.1h0M1378.9 421.1h0M1385.2 415.5h0M1375.0 415.3h0M1380.6 418.7h0M1381.1 418.5h0M1382.0 421.1h0M1379.2 414.3h0M1377.8 417.3h0M1381.1 418.4h0M1378.6 420.3h0M1386.3 413.5h0M1378.8 420.1h0M1382.9 421.9h0M1383.0 422.8h0M1387.1 422.4h0M1382.2 422.7h0M1379.8 418.5h0M1380.9 422.0h0M1383.7 423.3h0M1383.7 422.4h0M1377.2 422.7h0M1378.4 416.5h0M1383.1 415.4h0M1382.8 417.6h0M1378.6 422.2h0M1380.6 419.8h0M1378.8 421.4h0M1381.5 419.2h0M1375.7 422.6h0M1383.3 417.7h0M1380.8 423.1h0M1379.5 414.3h0M1379.4 414.5h0M1378.6 414.8h0M1379.9 418.8h0M1382.7 423.5h0M1382.1 418.1h0M1386.0 417.6h0M1382.7 420.4h0M1380.4 419.9h0M1384.2 422.7h0M1375.6 413.8h0M1383.4 418.6h0M1382.1 421.3h0M1380.9 417.9h0M1385.9 423.4h0M1384.1 417.2h0M1384.5 414.1h0M1384.8 423.3h0M1378.7 414.2h0M1378.5 417.3h0M1383.4 418.4h0M1376.1 414.0h0M1382.3 423.0h0M1378.3 413.9h0M1378.2 423.1h0M1379.6 420.6h0M1383.4 418.4h0M1382.0 422.3h0M1383.1 421.7h0M1386.8 417.9h0M1380.5 422.8h0M1385.1 422.2h0M1383.2 418.9h0M1383.3 416.5h0M1375.5 423.2h0M1387.5 413.6h0M1382.7 414.7h0M1383.8 419.2h0M1382.0 417.7h0M1374.4 416.9h0M1378.3 414.2h0M1375.6 422.7h0M1379.9 422.9h0M1381.0 423.1h0M1380.1 414.0h0M1383.2 417.6h0M1361.3 396.6h0M1362.4 400.7h0M1363.1 395.0h0M1365.0 397.9h0M1359.7 397.7h0M1361.9 395.8h0M1368.0 402.5h0M1363.9 401.5h0M1363.2 401.3h0M1364.1 396.3h0M1362.2 401.6h0M1367.7 401.9h0M1368.2 395.7h0M1359.3 399.7h0M1364.9 396.5h0M1361.5 400.1h0M1366.8 394.8h0M1362.3 396.4h0M1361.8 400.4h0M1359.2 396.5h0M1366.9 394.1h0M1363.3 402.2h0M1368.8 399.8h0M1366.8 399.1h0M1363.1 393.8h0M1363.9 393.5h0M1395.0 397.2h0M1403.9 396.0h0M1399.6 393.3h0M1400.8 401.1h0M1404.8 392.5h0M1396.6 396.7h0M1399.2 401.2h0M1401.9 397.9h0M1395.9 398.7h0M1399.5 398.8h0M1397.6 396.1h0M1399.6 399.9h0M1399.8 394.1h0M1394.5 397.8h0M1400.2 398.4h0M1401.4 399.6h0M1394.9 395.2h0M1397.0 398.3h0M1403.8 395.6h0M1402.6 392.2h0M1396.8 397.4h0M1403.9 399.3h0M1397.0 401.4h0M1395.8 397.8h0M1396.2 393.1h0M1397.5 399.0h0M1401.6 393.6h0M1397.8 401.7h0M1400.5 400.2h0M1405.0 393.2h0" fill="none" stroke="#999999" stroke-width="4.50" stroke-linecap="round"/>
<path d="M1353.4 183.5h0M1401.3 189.1h0M1355.7 228.8h0M1416.0 314.5h0M1358.7 330.0h0M1351.7 335.2h0M1364.0 342.7h0M1359.6 347.1h0M1367.9 347.1h0M1360.6 352.9h0M1410.8 341.9h0M1407.7 347.1h0M1412.1 352.9h0M1390.4 350.4h0M1394.8 357.7h0M1402.5 354.4h0M1405.4 352.9h0M1406.3 357.7h0M1390.0 363.2h0M1398.0 363.3h0M1366.3 362.0h0M1365.4 366.5h0M1348.0 365.8h0M1351.0 365.5h0M1353.8 366.7h0M1344.7 374.0h0M1352.0 372.5h0M1355.0 373.5h0M1357.7 372.5h0M1360.0 372.0h0M1352.4 377.3h0M1359.6 378.8h0M1371.6 379.7h0M1389.4 377.3h0M1389.4 381.6h0M1389.2 386.0h0M1389.0 390.0h0M1388.8 393.5h0M1396.2 378.3h0M1402.5 365.0h0M1405.0 365.5h0M1403.0 368.0h0M1405.3 368.5h0M1402.6 371.0h0M1405.0 371.5h0M1402.8 374.0h0M1405.2 374.5h0M1403.5 377.0h0M1404.5 379.0h0M1402.0 381.0h0M1400.5 383.5h0M1364.5 383.5h0M1362.0 385.5h0" fill="none" stroke="#8a8a8a" stroke-width="4.50" stroke-linecap="round"/>
<path d="M1234.3 99.3h0M1475.5 124.2h0M1520.4 185.7h0M1299.7 270.4h0M1287.0 297.5h0M1269.2 308.9h0M1254.4 335.2h0M1039.8 324.4h0M1048.8 312.3h0M1062.4 347.4h0M1064.5 348.3h0M1078.6 352.9h0M1080.9 344.8h0M1088.4 356.2h0M1139.0 362.6h0M1143.1 359.1h0M1146.0 366.1h0M1148.5 366.1h0M1160.7 367.4h0M1180.3 370.3h0M1193.8 362.8h0M1198.0 356.3h0M1216.6 357.8h0M1217.8 374.5h0M1224.8 374.8h0M1240.8 376.9h0M1255.3 374.5h0M1254.1 377.8h0M1261.9 379.0h0M1266.2 379.9h0M1277.0 381.4h0M1283.1 381.7h0M1468.3 374.7h0M1466.8 382.2h0M1467.5 384.6h0M1476.5 382.0h0M1480.4 382.4h0M1500.1 379.1h0M1519.1 377.2h0M1527.3 374.4h0M1576.2 370.9h0M1613.3 366.2h0M1620.7 335.7h0M1711.4 345.0h0M1714.7 343.1h0M1725.1 347.2h0" fill="none" stroke="#e51f1d" stroke-width="5.50" stroke-linecap="round"/>
<path d="M1312.1 99V421.7" stroke="#000" stroke-width="2.8" fill="none"/>
<path d="M1449.9 98.7V421.7" stroke="#000" stroke-width="2.8" stroke-dasharray="10.7 9" stroke-dashoffset="4" fill="none"/>
<path d="M1041.4 384.4H1723.5" stroke="#000" stroke-width="3.5" stroke-dasharray="0 6.6" stroke-linecap="round" fill="none"/>
<text x="1012.9" y="458.5" font-size="14.00" text-anchor="middle" fill="#383838" stroke="#383838" stroke-width="0.3" font-family="DejaVu Sans, Liberation Sans, sans-serif" textLength="17.5" lengthAdjust="spacingAndGlyphs" >−8</text>
<text x="1105.0" y="458.5" font-size="14.00" text-anchor="middle" fill="#383838" stroke="#383838" stroke-width="0.3" font-family="DejaVu Sans, Liberation Sans, sans-serif" textLength="17.5" lengthAdjust="spacingAndGlyphs" >−6</text>
<text x="1197.1" y="458.5" font-size="14.00" text-anchor="middle" fill="#383838" stroke="#383838" stroke-width="0.3" font-family="DejaVu Sans, Liberation Sans, sans-serif" textLength="17.5" lengthAdjust="spacingAndGlyphs" >−4</text>
<text x="1289.2" y="458.5" font-size="14.00" text-anchor="middle" fill="#383838" stroke="#383838" stroke-width="0.3" font-family="DejaVu Sans, Liberation Sans, sans-serif" textLength="17.5" lengthAdjust="spacingAndGlyphs" >−2</text>
<text x="1381.3" y="458.5" font-size="14.00" text-anchor="middle" fill="#383838" stroke="#383838" stroke-width="0.3" font-family="DejaVu Sans, Liberation Sans, sans-serif" textLength="8.0" lengthAdjust="spacingAndGlyphs" >0</text>
<text x="1473.4" y="458.5" font-size="14.00" text-anchor="middle" fill="#383838" stroke="#383838" stroke-width="0.3" font-family="DejaVu Sans, Liberation Sans, sans-serif" textLength="8.0" lengthAdjust="spacingAndGlyphs" >2</text>
<text x="1565.5" y="458.5" font-size="14.00" text-anchor="middle" fill="#383838" stroke="#383838" stroke-width="0.3" font-family="DejaVu Sans, Liberation Sans, sans-serif" textLength="8.0" lengthAdjust="spacingAndGlyphs" >4</text>
<text x="1657.6" y="458.5" font-size="14.00" text-anchor="middle" fill="#383838" stroke="#383838" stroke-width="0.3" font-family="DejaVu Sans, Liberation Sans, sans-serif" textLength="8.0" lengthAdjust="spacingAndGlyphs" >6</text>
<text x="1749.7" y="458.5" font-size="14.00" text-anchor="middle" fill="#383838" stroke="#383838" stroke-width="0.3" font-family="DejaVu Sans, Liberation Sans, sans-serif" textLength="8.0" lengthAdjust="spacingAndGlyphs" >8</text>
<text x="1000.8" y="426.6" font-size="14.00" text-anchor="end" fill="#383838" stroke="#383838" stroke-width="0.3" font-family="DejaVu Sans, Liberation Sans, sans-serif" textLength="7.9" lengthAdjust="spacingAndGlyphs" >0</text>
<text x="1000.8" y="368.9" font-size="14.00" text-anchor="end" fill="#383838" stroke="#383838" stroke-width="0.3" font-family="DejaVu Sans, Liberation Sans, sans-serif" textLength="7.9" lengthAdjust="spacingAndGlyphs" >2</text>
<text x="1000.8" y="311.3" font-size="14.00" text-anchor="end" fill="#383838" stroke="#383838" stroke-width="0.3" font-family="DejaVu Sans, Liberation Sans, sans-serif" textLength="7.9" lengthAdjust="spacingAndGlyphs" >4</text>
<text x="1000.8" y="253.6" font-size="14.00" text-anchor="end" fill="#383838" stroke="#383838" stroke-width="0.3" font-family="DejaVu Sans, Liberation Sans, sans-serif" textLength="7.9" lengthAdjust="spacingAndGlyphs" >6</text>
<text x="1000.8" y="196.0" font-size="14.00" text-anchor="end" fill="#383838" stroke="#383838" stroke-width="0.3" font-family="DejaVu Sans, Liberation Sans, sans-serif" textLength="7.9" lengthAdjust="spacingAndGlyphs" >8</text>
<text x="1000.8" y="138.3" font-size="14.00" text-anchor="end" fill="#383838" stroke="#383838" stroke-width="0.3" font-family="DejaVu Sans, Liberation Sans, sans-serif" textLength="15.8" lengthAdjust="spacingAndGlyphs" >10</text>
<text x="1118.4" y="484.3" font-size="14.00" text-anchor="start" fill="#383838" stroke="#383838" stroke-width="0.3" font-family="DejaVu Sans, Liberation Sans, sans-serif" textLength="112.0" lengthAdjust="spacingAndGlyphs" >higher in TLRK</text>
<text x="1293.6" y="484.3" font-size="14.00" text-anchor="start" fill="#383838" stroke="#383838" stroke-width="0.3" font-family="DejaVu Sans, Liberation Sans, sans-serif" textLength="179.3" lengthAdjust="spacingAndGlyphs" >&lt;&lt; log2FoldChange &gt;&gt;</text>
<text x="1535.3" y="484.3" font-size="14.00" text-anchor="start" fill="#383838" stroke="#383838" stroke-width="0.3" font-family="DejaVu Sans, Liberation Sans, sans-serif" textLength="109.3" lengthAdjust="spacingAndGlyphs" >higher in WTK</text>
<text transform="translate(960.8 311) rotate(-90)" font-size="15" fill="#383838" stroke="#3d3d3d" stroke-width="0.3" font-family="DejaVu Sans, Liberation Sans, sans-serif" textLength="101" lengthAdjust="spacingAndGlyphs">-log(10) padj</text>
<text x="1076" y="261.8" font-size="23.6" font-weight="bold" font-style="italic" fill="#000" font-family="Liberation Sans, Arial, sans-serif">FGA</text>
<text x="1188.6" y="252" font-size="24" font-weight="bold" font-style="italic" fill="#000" font-family="Liberation Sans, Arial, sans-serif">FGG</text>
<path d="M1093.3 280.5L1058.6 303M1064.5 293.6L1058.6 303L1069.6 301.6" stroke="#ee3b3f" stroke-width="1.1" fill="none"/>
<path d="M1239.5 264.3L1273.7 286.5M1263 285.3L1273.7 286.5L1267.8 277.4" stroke="#ee3b3f" stroke-width="1.1" fill="none"/>
<text x="1777.2" y="170.9" font-size="14.60" text-anchor="start" fill="#383838" stroke="#383838" stroke-width="0.3" font-family="DejaVu Sans, Liberation Sans, sans-serif" textLength="136.5" lengthAdjust="spacingAndGlyphs" >Differential status</text>
<circle cx="1796.9" cy="186.9" r="2.3" fill="#858585"/>
<circle cx="1796.9" cy="207.8" r="2.65" fill="#e51f1d"/>
<text x="1819.2" y="191.5" font-size="12.90" text-anchor="start" fill="#383838" stroke="#383838" stroke-width="0.3" font-family="DejaVu Sans, Liberation Sans, sans-serif" textLength="39.6" lengthAdjust="spacingAndGlyphs" >FALSE</text>
<text x="1819.2" y="212.6" font-size="12.90" text-anchor="start" fill="#383838" stroke="#383838" stroke-width="0.3" font-family="DejaVu Sans, Liberation Sans, sans-serif" textLength="34.2" lengthAdjust="spacingAndGlyphs" >TRUE</text>
<path d="M1780.3 228.2H1813" stroke="#000" stroke-width="2.2"/>
<path d="M1780.3 249.2H1811.8" stroke="#000" stroke-width="2.2" stroke-dasharray="9.4 10.5 9.8 20"/>
<path d="M1781.8 270.1H1811" stroke="#000" stroke-width="3.3" stroke-dasharray="0 6.8" stroke-linecap="round"/>
<text x="1818.7" y="233.4" font-size="13.20" text-anchor="start" fill="#383838" stroke="#383838" stroke-width="0.3" font-family="DejaVu Sans, Liberation Sans, sans-serif" textLength="170.0" lengthAdjust="spacingAndGlyphs" >log2FoldChange &lt;= -1.5</text>
<text x="1818.7" y="254.4" font-size="13.20" text-anchor="start" fill="#383838" stroke="#383838" stroke-width="0.3" font-family="DejaVu Sans, Liberation Sans, sans-serif" textLength="165.0" lengthAdjust="spacingAndGlyphs" >log2FoldChange &gt;= 1.5</text>
<text x="1819.2" y="275.5" font-size="12.90" text-anchor="start" fill="#383838" stroke="#383838" stroke-width="0.3" font-family="DejaVu Sans, Liberation Sans, sans-serif" textLength="89.1" lengthAdjust="spacingAndGlyphs" >padj &lt;= 0.05</text>
<path d="M838.6 280.4H882.7V266.6L911 294.6L882.7 322.9V308.6H838.6Z" fill="#fb1d0d" stroke="#d8200f" stroke-width="0.6"/>
<text x="3.4" y="26.9" font-size="32.8" font-weight="bold" fill="#000" font-family="Liberation Sans, Arial, sans-serif">A</text>
<text x="955.8" y="29.2" font-size="32.8" font-weight="bold" fill="#000" font-family="Liberation Sans, Arial, sans-serif">B</text>
<text x="475" y="34.2" font-size="28.2" font-weight="bold" text-anchor="middle" fill="#000" font-family="Liberation Sans, Arial, sans-serif" textLength="464.5" lengthAdjust="spacing">TLR3W769* hLORG vs WT hLORG</text>
<text x="475" y="68.9" font-size="28.2" font-weight="bold" text-anchor="middle" fill="#000" font-family="Liberation Sans, Arial, sans-serif" textLength="214" lengthAdjust="spacing">before infection</text>
<text x="1371.9" y="32.4" font-size="28.2" font-weight="bold" text-anchor="middle" fill="#000" font-family="Liberation Sans, Arial, sans-serif" textLength="463.2" lengthAdjust="spacing">TLR3W769* hLORG vs WT hLORG</text>
<text x="1371.9" y="67.3" font-size="28.2" font-weight="bold" text-anchor="middle" fill="#000" font-family="Liberation Sans, Arial, sans-serif" textLength="187.4" lengthAdjust="spacing">after infection</text>
<rect x="115.8" y="604" width="1657.8" height="58.4" fill="#cfcfcf"/>
<path d="M115.8 543.7H1773.6" stroke="#1a1a1a" stroke-width="1.4"/>
<path d="M115.8 603.4H1773.6" stroke="#1a1a1a" stroke-width="1.7"/>
<path d="M115.8 722.6H1773.6" stroke="#1a1a1a" stroke-width="1.5"/>
<text x="131" y="641.7" font-size="23.4" fill="#000" font-family="Liberation Sans, Arial, sans-serif" word-spacing="2.0"><tspan font-weight="bold">TLR3W769* hLORG vs WT hLORG before infection</tspan><tspan dx="3"> (2351)</tspan></text>
<text x="131" y="701.4" font-size="23.4" fill="#000" font-family="Liberation Sans, Arial, sans-serif" word-spacing="2.0"><tspan font-weight="bold">TLR3W769* hLORG vs WT hLORG after infection</tspan><tspan dx="2.3"> (54)</tspan></text>
<text x="1270" y="582.7" font-size="23.4" font-weight="bold" text-anchor="middle" fill="#000" font-family="Liberation Sans, Arial, sans-serif">UP</text>
<text x="1606.2" y="582.7" font-size="23.4" font-weight="bold" text-anchor="middle" fill="#000" font-family="Liberation Sans, Arial, sans-serif">DOWN</text>
<text x="1270.5" y="642.0" font-size="23.4" text-anchor="middle" fill="#000" font-family="Liberation Sans, Arial, sans-serif" word-spacing="0">1105 genes</text>
<text x="1606.2" y="642.0" font-size="23.4" text-anchor="middle" fill="#000" font-family="Liberation Sans, Arial, sans-serif" word-spacing="0">1246 genes</text>
<text x="1270.5" y="701.3" font-size="23.4" text-anchor="middle" fill="#000" font-family="Liberation Sans, Arial, sans-serif" word-spacing="0">18 genes</text>
<text x="1606.2" y="701.3" font-size="23.4" text-anchor="middle" fill="#000" font-family="Liberation Sans, Arial, sans-serif" word-spacing="0">36 genes</text>
</svg>
</body></html>
